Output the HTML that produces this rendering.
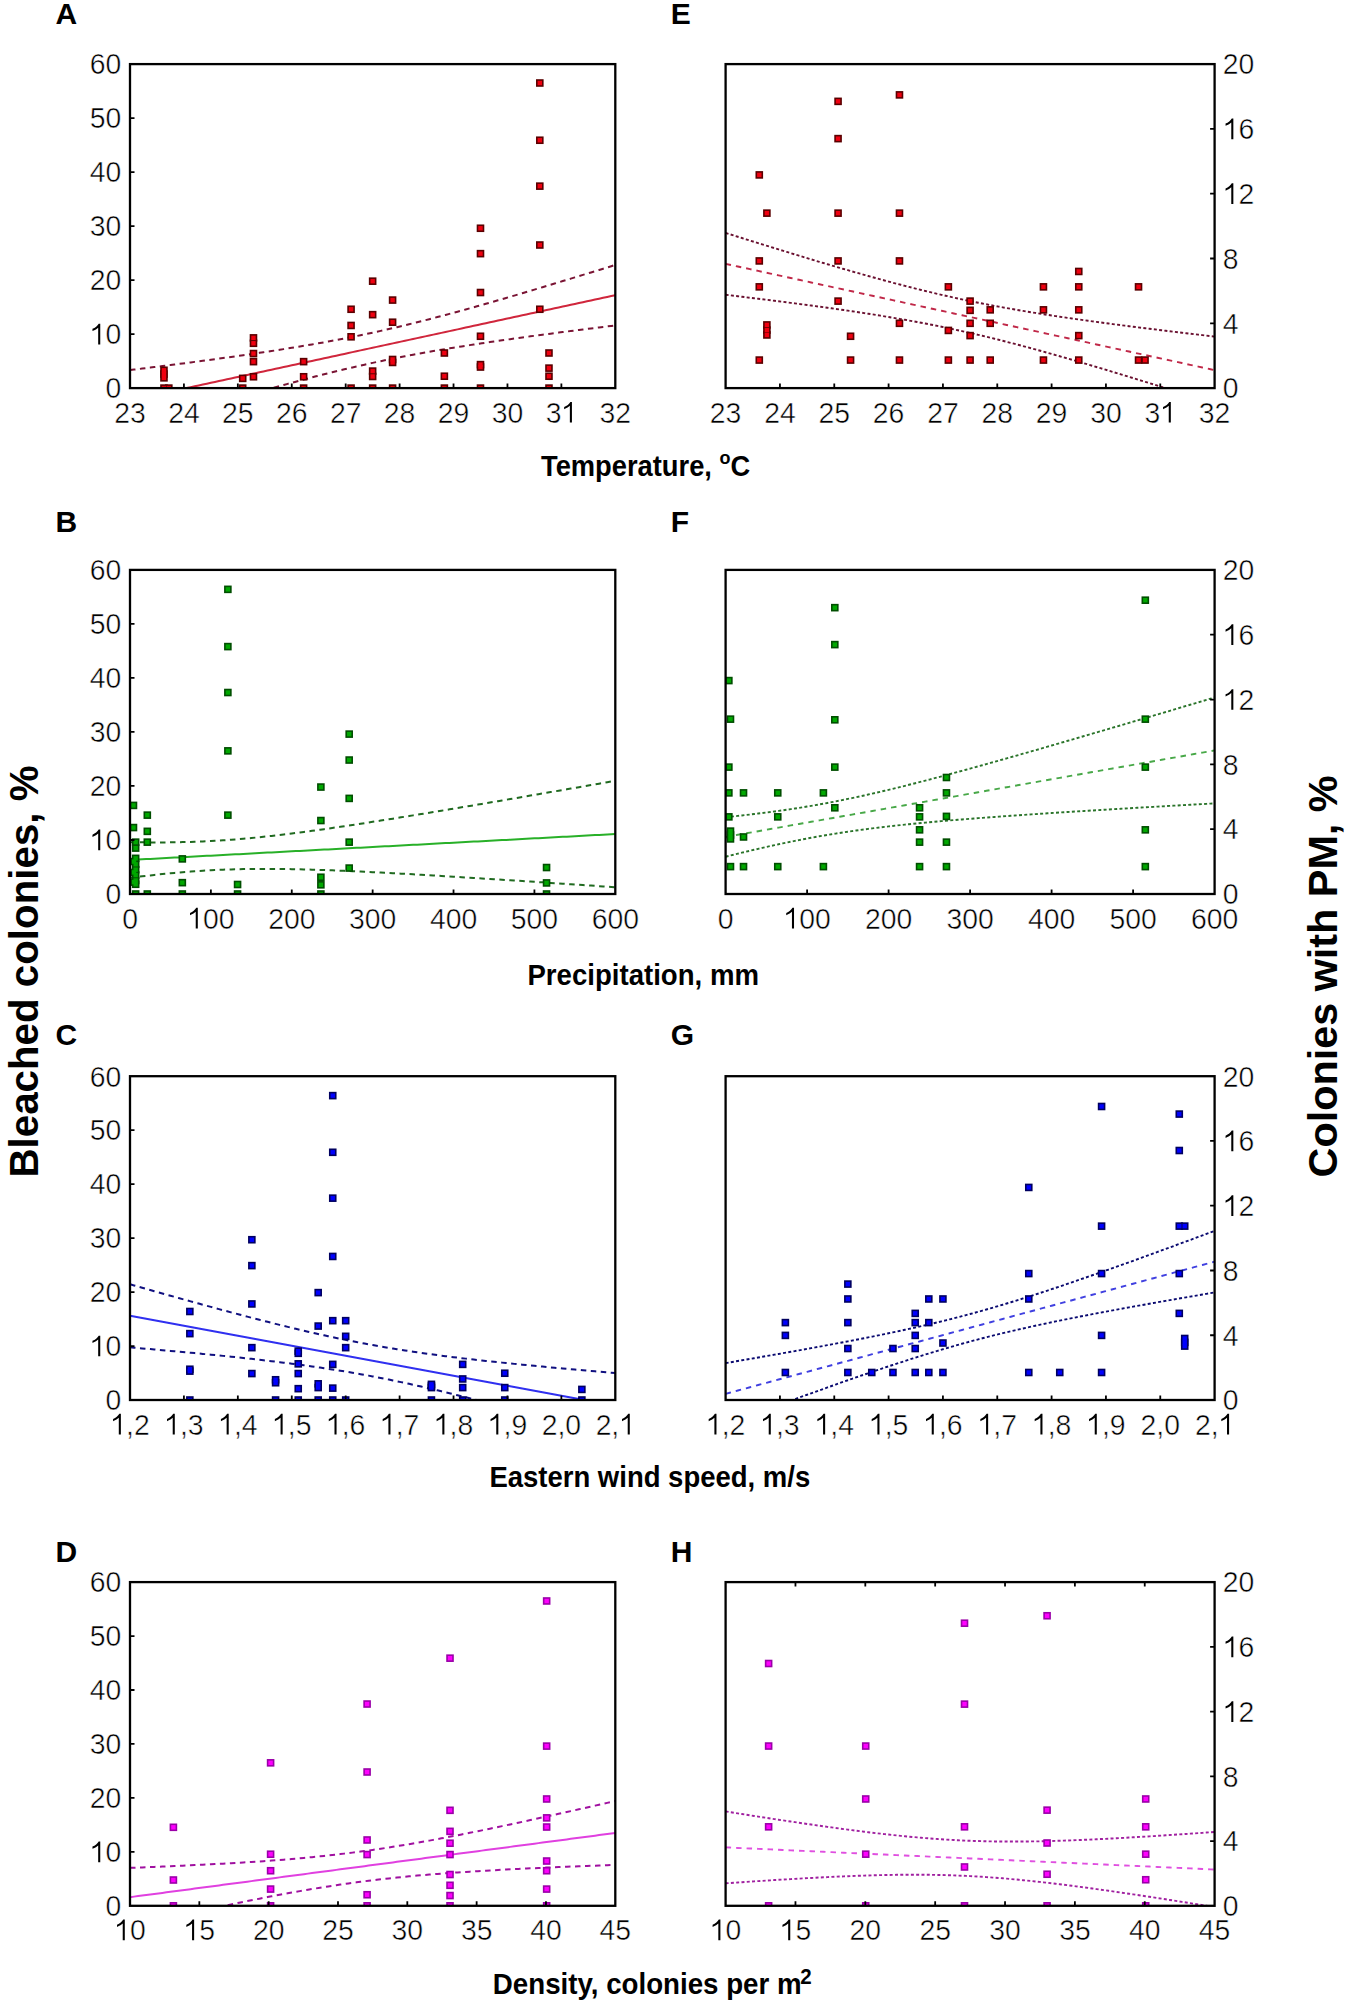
<!DOCTYPE html>
<html><head><meta charset="utf-8"><style>
html,body{margin:0;padding:0;background:#fff;width:1358px;height:2006px;overflow:hidden}
svg{display:block}
.tl text{font-family:"Liberation Sans",sans-serif;font-size:29.5px;fill:#000;stroke:#fff;stroke-width:0.5px}
.tl path{fill:#000}
.pl{font-family:"Liberation Sans",sans-serif;font-size:30px;font-weight:bold;fill:#000}
.ax{font-family:"Liberation Sans",sans-serif;font-size:28px;font-weight:bold;fill:#000}
.vt{font-family:"Liberation Sans",sans-serif;font-size:40px;font-weight:bold;fill:#000}
</style></head><body>
<svg width="1358" height="2006" viewBox="0 0 1358 2006">
<rect width="1358" height="2006" fill="#fff"/>
<clipPath id="c00"><rect x="130" y="64.1" width="485.3" height="324"/></clipPath>
<g clip-path="url(#c00)" fill="none">
<path d="M130,400.35 L134.04,399.47 L138.09,398.59 L142.13,397.72 L146.18,396.84 L150.22,395.97 L154.26,395.09 L158.31,394.21 L162.35,393.34 L166.4,392.46 L170.44,391.58 L174.49,390.71 L178.53,389.83 L182.57,388.95 L186.62,388.08 L190.66,387.2 L194.71,386.32 L198.75,385.45 L202.8,384.57 L206.84,383.7 L210.88,382.82 L214.93,381.94 L218.97,381.07 L223.02,380.19 L227.06,379.31 L231.1,378.44 L235.15,377.56 L239.19,376.68 L243.24,375.81 L247.28,374.93 L251.32,374.05 L255.37,373.18 L259.41,372.3 L263.46,371.43 L267.5,370.55 L271.55,369.67 L275.59,368.8 L279.63,367.92 L283.68,367.04 L287.72,366.17 L291.77,365.29 L295.81,364.41 L299.85,363.54 L303.9,362.66 L307.94,361.78 L311.99,360.91 L316.03,360.03 L320.08,359.16 L324.12,358.28 L328.16,357.4 L332.21,356.53 L336.25,355.65 L340.3,354.77 L344.34,353.9 L348.38,353.02 L352.43,352.14 L356.47,351.27 L360.52,350.39 L364.56,349.51 L368.61,348.64 L372.65,347.76 L376.69,346.89 L380.74,346.01 L384.78,345.13 L388.83,344.26 L392.87,343.38 L396.91,342.5 L400.96,341.63 L405,340.75 L409.05,339.87 L413.09,339 L417.14,338.12 L421.18,337.24 L425.22,336.37 L429.27,335.49 L433.31,334.62 L437.36,333.74 L441.4,332.86 L445.45,331.99 L449.49,331.11 L453.53,330.23 L457.58,329.36 L461.62,328.48 L465.67,327.6 L469.71,326.73 L473.75,325.85 L477.8,324.98 L481.84,324.1 L485.89,323.22 L489.93,322.35 L493.97,321.47 L498.02,320.59 L502.06,319.72 L506.11,318.84 L510.15,317.96 L514.2,317.09 L518.24,316.21 L522.28,315.33 L526.33,314.46 L530.37,313.58 L534.42,312.71 L538.46,311.83 L542.5,310.95 L546.55,310.08 L550.59,309.2 L554.64,308.32 L558.68,307.45 L562.73,306.57 L566.77,305.69 L570.81,304.82 L574.86,303.94 L578.9,303.06 L582.95,302.19 L586.99,301.31 L591.03,300.44 L595.08,299.56 L599.12,298.68 L603.17,297.81 L607.21,296.93 L611.26,296.05 L615.3,295.18" stroke="#d0263c" stroke-width="2"/>
<path d="M130,370.1 L134.04,369.6 L138.09,369.1 L142.13,368.6 L146.18,368.09 L150.22,367.59 L154.26,367.08 L158.31,366.57 L162.35,366.06 L166.4,365.54 L170.44,365.03 L174.49,364.51 L178.53,363.99 L182.57,363.47 L186.62,362.94 L190.66,362.41 L194.71,361.88 L198.75,361.34 L202.8,360.81 L206.84,360.26 L210.88,359.72 L214.93,359.17 L218.97,358.62 L223.02,358.06 L227.06,357.5 L231.1,356.94 L235.15,356.37 L239.19,355.8 L243.24,355.22 L247.28,354.64 L251.32,354.05 L255.37,353.46 L259.41,352.86 L263.46,352.25 L267.5,351.64 L271.55,351.02 L275.59,350.4 L279.63,349.77 L283.68,349.13 L287.72,348.48 L291.77,347.83 L295.81,347.17 L299.85,346.5 L303.9,345.82 L307.94,345.13 L311.99,344.43 L316.03,343.72 L320.08,343.01 L324.12,342.28 L328.16,341.54 L332.21,340.79 L336.25,340.03 L340.3,339.26 L344.34,338.47 L348.38,337.68 L352.43,336.87 L356.47,336.05 L360.52,335.21 L364.56,334.37 L368.61,333.51 L372.65,332.64 L376.69,331.76 L380.74,330.86 L384.78,329.96 L388.83,329.04 L392.87,328.1 L396.91,327.16 L400.96,326.2 L405,325.23 L409.05,324.25 L413.09,323.26 L417.14,322.26 L421.18,321.24 L425.22,320.22 L429.27,319.18 L433.31,318.14 L437.36,317.08 L441.4,316.02 L445.45,314.95 L449.49,313.86 L453.53,312.77 L457.58,311.67 L461.62,310.57 L465.67,309.45 L469.71,308.33 L473.75,307.2 L477.8,306.07 L481.84,304.93 L485.89,303.78 L489.93,302.62 L493.97,301.47 L498.02,300.3 L502.06,299.13 L506.11,297.95 L510.15,296.78 L514.2,295.59 L518.24,294.4 L522.28,293.21 L526.33,292.01 L530.37,290.81 L534.42,289.61 L538.46,288.4 L542.5,287.19 L546.55,285.97 L550.59,284.75 L554.64,283.53 L558.68,282.31 L562.73,281.08 L566.77,279.85 L570.81,278.62 L574.86,277.39 L578.9,276.15 L582.95,274.91 L586.99,273.67 L591.03,272.43 L595.08,271.18 L599.12,269.94 L603.17,268.69 L607.21,267.44 L611.26,266.18 L615.3,264.93" stroke="#7a1434" stroke-width="2" stroke-dasharray="5.5 4.5"/>
<path d="M130,430.59 L134.04,429.34 L138.09,428.09 L142.13,426.84 L146.18,425.59 L150.22,424.34 L154.26,423.1 L158.31,421.85 L162.35,420.61 L166.4,419.37 L170.44,418.14 L174.49,416.9 L178.53,415.67 L182.57,414.44 L186.62,413.22 L190.66,411.99 L194.71,410.77 L198.75,409.55 L202.8,408.34 L206.84,407.13 L210.88,405.92 L214.93,404.71 L218.97,403.51 L223.02,402.32 L227.06,401.12 L231.1,399.93 L235.15,398.75 L239.19,397.57 L243.24,396.39 L247.28,395.22 L251.32,394.06 L255.37,392.9 L259.41,391.75 L263.46,390.6 L267.5,389.46 L271.55,388.32 L275.59,387.19 L279.63,386.07 L283.68,384.96 L287.72,383.85 L291.77,382.75 L295.81,381.66 L299.85,380.58 L303.9,379.5 L307.94,378.44 L311.99,377.39 L316.03,376.34 L320.08,375.31 L324.12,374.28 L328.16,373.27 L332.21,372.26 L336.25,371.27 L340.3,370.29 L344.34,369.32 L348.38,368.37 L352.43,367.42 L356.47,366.49 L360.52,365.57 L364.56,364.66 L368.61,363.76 L372.65,362.88 L376.69,362.01 L380.74,361.15 L384.78,360.31 L388.83,359.48 L392.87,358.66 L396.91,357.85 L400.96,357.05 L405,356.27 L409.05,355.5 L413.09,354.74 L417.14,353.99 L421.18,353.25 L425.22,352.52 L429.27,351.8 L433.31,351.09 L437.36,350.39 L441.4,349.71 L445.45,349.03 L449.49,348.36 L453.53,347.69 L457.58,347.04 L461.62,346.39 L465.67,345.76 L469.71,345.12 L473.75,344.5 L477.8,343.88 L481.84,343.27 L485.89,342.67 L489.93,342.07 L493.97,341.47 L498.02,340.89 L502.06,340.3 L506.11,339.73 L510.15,339.15 L514.2,338.58 L518.24,338.02 L522.28,337.46 L526.33,336.9 L530.37,336.35 L534.42,335.8 L538.46,335.26 L542.5,334.72 L546.55,334.18 L550.59,333.65 L554.64,333.11 L558.68,332.59 L562.73,332.06 L566.77,331.54 L570.81,331.01 L574.86,330.5 L578.9,329.98 L582.95,329.47 L586.99,328.95 L591.03,328.44 L595.08,327.94 L599.12,327.43 L603.17,326.92 L607.21,326.42 L611.26,325.92 L615.3,325.42" stroke="#7a1434" stroke-width="2" stroke-dasharray="5.5 4.5"/>
</g>
<g clip-path="url(#c00)" fill="#5a0000">
<rect x="160.17" y="366.48" width="7.6" height="7.6"/>
<rect x="160.17" y="370.26" width="7.6" height="7.6"/>
<rect x="160.17" y="374.04" width="7.6" height="7.6"/>
<rect x="160.17" y="384.3" width="7.6" height="7.6"/>
<rect x="165.02" y="384.3" width="7.6" height="7.6"/>
<rect x="238.9" y="374.58" width="7.6" height="7.6"/>
<rect x="238.9" y="384.3" width="7.6" height="7.6"/>
<rect x="249.68" y="334.08" width="7.6" height="7.6"/>
<rect x="249.68" y="339.48" width="7.6" height="7.6"/>
<rect x="249.68" y="349.74" width="7.6" height="7.6"/>
<rect x="249.68" y="357.84" width="7.6" height="7.6"/>
<rect x="249.68" y="372.96" width="7.6" height="7.6"/>
<rect x="299.83" y="357.84" width="7.6" height="7.6"/>
<rect x="299.83" y="372.96" width="7.6" height="7.6"/>
<rect x="299.83" y="384.3" width="7.6" height="7.6"/>
<rect x="347.28" y="305.46" width="7.6" height="7.6"/>
<rect x="347.28" y="321.66" width="7.6" height="7.6"/>
<rect x="347.28" y="333" width="7.6" height="7.6"/>
<rect x="347.28" y="384.3" width="7.6" height="7.6"/>
<rect x="368.85" y="277.38" width="7.6" height="7.6"/>
<rect x="368.85" y="310.86" width="7.6" height="7.6"/>
<rect x="368.85" y="367.29" width="7.6" height="7.6"/>
<rect x="368.85" y="372.69" width="7.6" height="7.6"/>
<rect x="368.85" y="384.3" width="7.6" height="7.6"/>
<rect x="388.8" y="296.28" width="7.6" height="7.6"/>
<rect x="388.8" y="318.42" width="7.6" height="7.6"/>
<rect x="388.8" y="355.68" width="7.6" height="7.6"/>
<rect x="388.8" y="358.65" width="7.6" height="7.6"/>
<rect x="388.8" y="384.3" width="7.6" height="7.6"/>
<rect x="440.57" y="349.2" width="7.6" height="7.6"/>
<rect x="440.57" y="372.42" width="7.6" height="7.6"/>
<rect x="440.57" y="384.3" width="7.6" height="7.6"/>
<rect x="476.69" y="224.46" width="7.6" height="7.6"/>
<rect x="476.69" y="249.84" width="7.6" height="7.6"/>
<rect x="476.69" y="288.72" width="7.6" height="7.6"/>
<rect x="476.69" y="332.46" width="7.6" height="7.6"/>
<rect x="476.69" y="360.81" width="7.6" height="7.6"/>
<rect x="476.69" y="363.24" width="7.6" height="7.6"/>
<rect x="476.69" y="384.3" width="7.6" height="7.6"/>
<rect x="536.01" y="79.2" width="7.6" height="7.6"/>
<rect x="536.01" y="136.44" width="7.6" height="7.6"/>
<rect x="536.01" y="182.34" width="7.6" height="7.6"/>
<rect x="536.01" y="241.2" width="7.6" height="7.6"/>
<rect x="536.01" y="305.46" width="7.6" height="7.6"/>
<rect x="545.18" y="349.2" width="7.6" height="7.6"/>
<rect x="545.18" y="364.32" width="7.6" height="7.6"/>
<rect x="545.18" y="372.42" width="7.6" height="7.6"/>
<rect x="545.18" y="384.3" width="7.6" height="7.6"/>
</g>
<g clip-path="url(#c00)" fill="#f00010">
<rect x="161.77" y="368.08" width="4.4" height="4.4"/>
<rect x="161.77" y="371.86" width="4.4" height="4.4"/>
<rect x="161.77" y="375.64" width="4.4" height="4.4"/>
<rect x="161.77" y="385.9" width="4.4" height="4.4"/>
<rect x="166.62" y="385.9" width="4.4" height="4.4"/>
<rect x="240.5" y="376.18" width="4.4" height="4.4"/>
<rect x="240.5" y="385.9" width="4.4" height="4.4"/>
<rect x="251.28" y="335.68" width="4.4" height="4.4"/>
<rect x="251.28" y="341.08" width="4.4" height="4.4"/>
<rect x="251.28" y="351.34" width="4.4" height="4.4"/>
<rect x="251.28" y="359.44" width="4.4" height="4.4"/>
<rect x="251.28" y="374.56" width="4.4" height="4.4"/>
<rect x="301.43" y="359.44" width="4.4" height="4.4"/>
<rect x="301.43" y="374.56" width="4.4" height="4.4"/>
<rect x="301.43" y="385.9" width="4.4" height="4.4"/>
<rect x="348.88" y="307.06" width="4.4" height="4.4"/>
<rect x="348.88" y="323.26" width="4.4" height="4.4"/>
<rect x="348.88" y="334.6" width="4.4" height="4.4"/>
<rect x="348.88" y="385.9" width="4.4" height="4.4"/>
<rect x="370.45" y="278.98" width="4.4" height="4.4"/>
<rect x="370.45" y="312.46" width="4.4" height="4.4"/>
<rect x="370.45" y="368.89" width="4.4" height="4.4"/>
<rect x="370.45" y="374.29" width="4.4" height="4.4"/>
<rect x="370.45" y="385.9" width="4.4" height="4.4"/>
<rect x="390.4" y="297.88" width="4.4" height="4.4"/>
<rect x="390.4" y="320.02" width="4.4" height="4.4"/>
<rect x="390.4" y="357.28" width="4.4" height="4.4"/>
<rect x="390.4" y="360.25" width="4.4" height="4.4"/>
<rect x="390.4" y="385.9" width="4.4" height="4.4"/>
<rect x="442.17" y="350.8" width="4.4" height="4.4"/>
<rect x="442.17" y="374.02" width="4.4" height="4.4"/>
<rect x="442.17" y="385.9" width="4.4" height="4.4"/>
<rect x="478.29" y="226.06" width="4.4" height="4.4"/>
<rect x="478.29" y="251.44" width="4.4" height="4.4"/>
<rect x="478.29" y="290.32" width="4.4" height="4.4"/>
<rect x="478.29" y="334.06" width="4.4" height="4.4"/>
<rect x="478.29" y="362.41" width="4.4" height="4.4"/>
<rect x="478.29" y="364.84" width="4.4" height="4.4"/>
<rect x="478.29" y="385.9" width="4.4" height="4.4"/>
<rect x="537.61" y="80.8" width="4.4" height="4.4"/>
<rect x="537.61" y="138.04" width="4.4" height="4.4"/>
<rect x="537.61" y="183.94" width="4.4" height="4.4"/>
<rect x="537.61" y="242.8" width="4.4" height="4.4"/>
<rect x="537.61" y="307.06" width="4.4" height="4.4"/>
<rect x="546.78" y="350.8" width="4.4" height="4.4"/>
<rect x="546.78" y="365.92" width="4.4" height="4.4"/>
<rect x="546.78" y="374.02" width="4.4" height="4.4"/>
<rect x="546.78" y="385.9" width="4.4" height="4.4"/>
</g>
<rect x="130" y="64.1" width="485.3" height="324" fill="none" stroke="#000" stroke-width="2.3"/>
<path d="M183.92,388.1 v-4.5 M237.84,388.1 v-4.5 M291.77,388.1 v-4.5 M345.69,388.1 v-4.5 M399.61,388.1 v-4.5 M453.53,388.1 v-4.5 M507.46,388.1 v-4.5 M561.38,388.1 v-4.5 M130,334.1 h4.5 M130,280.1 h4.5 M130,226.1 h4.5 M130,172.1 h4.5 M130,118.1 h4.5" stroke="#000" stroke-width="1.8" fill="none"/>
<g class="tl">
<g transform="translate(130,422.6) scale(0.96,1.02)"><text x="-16.41" y="0">23</text></g>
<g transform="translate(183.92,422.6) scale(0.96,1.02)"><text x="-16.41" y="0">24</text></g>
<g transform="translate(237.84,422.6) scale(0.96,1.02)"><text x="-16.41" y="0">25</text></g>
<g transform="translate(291.77,422.6) scale(0.96,1.02)"><text x="-16.41" y="0">26</text></g>
<g transform="translate(345.69,422.6) scale(0.96,1.02)"><text x="-16.41" y="0">27</text></g>
<g transform="translate(399.61,422.6) scale(0.96,1.02)"><text x="-16.41" y="0">28</text></g>
<g transform="translate(453.53,422.6) scale(0.96,1.02)"><text x="-16.41" y="0">29</text></g>
<g transform="translate(507.46,422.6) scale(0.96,1.02)"><text x="-16.41" y="0">30</text></g>
<g transform="translate(561.38,422.6) scale(0.96,1.02)"><text x="-16.41" y="0">3 </text><path d="M763,0 L613,0 L613,1140 C540,1075 390,980 200,910 L200,1062 C400,1140 560,1260 650,1409 L763,1409 Z" transform="translate(0,0) scale(0.014404,-0.014404)"/></g>
<g transform="translate(615.3,422.6) scale(0.96,1.02)"><text x="-16.41" y="0">32</text></g>
<g transform="translate(121.2,398.4) scale(0.96,1.02)"><text x="-16.41" y="0">0</text></g>
<g transform="translate(121.2,344.4) scale(0.96,1.02)"><text x="-32.81" y="0"> 0</text><path d="M763,0 L613,0 L613,1140 C540,1075 390,980 200,910 L200,1062 C400,1140 560,1260 650,1409 L763,1409 Z" transform="translate(-32.81,0) scale(0.014404,-0.014404)"/></g>
<g transform="translate(121.2,290.4) scale(0.96,1.02)"><text x="-32.81" y="0">20</text></g>
<g transform="translate(121.2,236.4) scale(0.96,1.02)"><text x="-32.81" y="0">30</text></g>
<g transform="translate(121.2,182.4) scale(0.96,1.02)"><text x="-32.81" y="0">40</text></g>
<g transform="translate(121.2,128.4) scale(0.96,1.02)"><text x="-32.81" y="0">50</text></g>
<g transform="translate(121.2,74.4) scale(0.96,1.02)"><text x="-32.81" y="0">60</text></g>
</g>
<clipPath id="c10"><rect x="725.6" y="64.1" width="489" height="324"/></clipPath>
<g clip-path="url(#c10)" fill="none">
<path d="M725.6,263.85 L729.67,264.73 L733.75,265.62 L737.83,266.5 L741.9,267.39 L745.98,268.27 L750.05,269.16 L754.12,270.05 L758.2,270.93 L762.28,271.82 L766.35,272.7 L770.42,273.59 L774.5,274.47 L778.58,275.36 L782.65,276.25 L786.73,277.13 L790.8,278.02 L794.87,278.9 L798.95,279.79 L803.03,280.67 L807.1,281.56 L811.17,282.45 L815.25,283.33 L819.33,284.22 L823.4,285.1 L827.48,285.99 L831.55,286.88 L835.62,287.76 L839.7,288.65 L843.78,289.53 L847.85,290.42 L851.92,291.3 L856,292.19 L860.08,293.08 L864.15,293.96 L868.23,294.85 L872.3,295.73 L876.37,296.62 L880.45,297.5 L884.52,298.39 L888.6,299.28 L892.67,300.16 L896.75,301.05 L900.83,301.93 L904.9,302.82 L908.97,303.7 L913.05,304.59 L917.12,305.48 L921.2,306.36 L925.28,307.25 L929.35,308.13 L933.42,309.02 L937.5,309.9 L941.58,310.79 L945.65,311.68 L949.72,312.56 L953.8,313.45 L957.87,314.33 L961.95,315.22 L966.02,316.1 L970.1,316.99 L974.17,317.88 L978.25,318.76 L982.33,319.65 L986.4,320.53 L990.47,321.42 L994.55,322.3 L998.62,323.19 L1002.7,324.08 L1006.77,324.96 L1010.85,325.85 L1014.92,326.73 L1019,327.62 L1023.08,328.5 L1027.15,329.39 L1031.22,330.28 L1035.3,331.16 L1039.38,332.05 L1043.45,332.93 L1047.53,333.82 L1051.6,334.7 L1055.67,335.59 L1059.75,336.48 L1063.83,337.36 L1067.9,338.25 L1071.97,339.13 L1076.05,340.02 L1080.12,340.9 L1084.2,341.79 L1088.28,342.68 L1092.35,343.56 L1096.42,344.45 L1100.5,345.33 L1104.58,346.22 L1108.65,347.11 L1112.72,347.99 L1116.8,348.88 L1120.87,349.76 L1124.95,350.65 L1129.03,351.53 L1133.1,352.42 L1137.17,353.31 L1141.25,354.19 L1145.33,355.08 L1149.4,355.96 L1153.47,356.85 L1157.55,357.73 L1161.62,358.62 L1165.7,359.51 L1169.78,360.39 L1173.85,361.28 L1177.92,362.16 L1182,363.05 L1186.08,363.93 L1190.15,364.82 L1194.22,365.71 L1198.3,366.59 L1202.37,367.48 L1206.45,368.36 L1210.52,369.25 L1214.6,370.13" stroke="#c02848" stroke-width="1.9" stroke-dasharray="5.5 5"/>
<path d="M725.6,232.89 L729.67,234.18 L733.75,235.47 L737.83,236.75 L741.9,238.03 L745.98,239.31 L750.05,240.58 L754.12,241.86 L758.2,243.13 L762.28,244.39 L766.35,245.66 L770.42,246.92 L774.5,248.18 L778.58,249.44 L782.65,250.69 L786.73,251.95 L790.8,253.19 L794.87,254.44 L798.95,255.68 L803.03,256.91 L807.1,258.14 L811.17,259.37 L815.25,260.59 L819.33,261.81 L823.4,263.03 L827.48,264.23 L831.55,265.44 L835.62,266.63 L839.7,267.82 L843.78,269.01 L847.85,270.19 L851.92,271.36 L856,272.53 L860.08,273.68 L864.15,274.84 L868.23,275.98 L872.3,277.11 L876.37,278.24 L880.45,279.35 L884.52,280.46 L888.6,281.56 L892.67,282.65 L896.75,283.73 L900.83,284.79 L904.9,285.85 L908.97,286.9 L913.05,287.93 L917.12,288.95 L921.2,289.96 L925.28,290.96 L929.35,291.94 L933.42,292.91 L937.5,293.87 L941.58,294.81 L945.65,295.75 L949.72,296.66 L953.8,297.57 L957.87,298.46 L961.95,299.33 L966.02,300.2 L970.1,301.04 L974.17,301.88 L978.25,302.7 L982.33,303.51 L986.4,304.3 L990.47,305.09 L994.55,305.86 L998.62,306.61 L1002.7,307.36 L1006.77,308.09 L1010.85,308.81 L1014.92,309.52 L1019,310.22 L1023.08,310.91 L1027.15,311.59 L1031.22,312.26 L1035.3,312.92 L1039.38,313.57 L1043.45,314.21 L1047.53,314.85 L1051.6,315.47 L1055.67,316.09 L1059.75,316.7 L1063.83,317.31 L1067.9,317.9 L1071.97,318.49 L1076.05,319.08 L1080.12,319.65 L1084.2,320.23 L1088.28,320.79 L1092.35,321.35 L1096.42,321.91 L1100.5,322.46 L1104.58,323.01 L1108.65,323.55 L1112.72,324.09 L1116.8,324.62 L1120.87,325.15 L1124.95,325.68 L1129.03,326.2 L1133.1,326.72 L1137.17,327.24 L1141.25,327.75 L1145.33,328.26 L1149.4,328.77 L1153.47,329.27 L1157.55,329.77 L1161.62,330.27 L1165.7,330.77 L1169.78,331.27 L1173.85,331.76 L1177.92,332.25 L1182,332.74 L1186.08,333.22 L1190.15,333.71 L1194.22,334.19 L1198.3,334.67 L1202.37,335.15 L1206.45,335.63 L1210.52,336.1 L1214.6,336.58" stroke="#6a1030" stroke-width="1.9" stroke-dasharray="3 2.3"/>
<path d="M725.6,294.8 L729.67,295.28 L733.75,295.77 L737.83,296.26 L741.9,296.75 L745.98,297.24 L750.05,297.74 L754.12,298.24 L758.2,298.74 L762.28,299.24 L766.35,299.75 L770.42,300.25 L774.5,300.77 L778.58,301.28 L782.65,301.8 L786.73,302.32 L790.8,302.84 L794.87,303.37 L798.95,303.9 L803.03,304.44 L807.1,304.98 L811.17,305.52 L815.25,306.07 L819.33,306.62 L823.4,307.18 L827.48,307.75 L831.55,308.31 L835.62,308.89 L839.7,309.47 L843.78,310.05 L847.85,310.65 L851.92,311.25 L856,311.85 L860.08,312.47 L864.15,313.09 L868.23,313.72 L872.3,314.35 L876.37,315 L880.45,315.65 L884.52,316.32 L888.6,316.99 L892.67,317.67 L896.75,318.37 L900.83,319.07 L904.9,319.79 L908.97,320.51 L913.05,321.25 L917.12,322 L921.2,322.76 L925.28,323.54 L929.35,324.32 L933.42,325.12 L937.5,325.94 L941.58,326.77 L945.65,327.61 L949.72,328.46 L953.8,329.33 L957.87,330.21 L961.95,331.1 L966.02,332.01 L970.1,332.94 L974.17,333.87 L978.25,334.82 L982.33,335.79 L986.4,336.76 L990.47,337.75 L994.55,338.75 L998.62,339.77 L1002.7,340.79 L1006.77,341.83 L1010.85,342.88 L1014.92,343.94 L1019,345.01 L1023.08,346.1 L1027.15,347.19 L1031.22,348.29 L1035.3,349.4 L1039.38,350.52 L1043.45,351.65 L1047.53,352.79 L1051.6,353.94 L1055.67,355.09 L1059.75,356.25 L1063.83,357.42 L1067.9,358.59 L1071.97,359.77 L1076.05,360.96 L1080.12,362.16 L1084.2,363.36 L1088.28,364.56 L1092.35,365.77 L1096.42,366.99 L1100.5,368.21 L1104.58,369.43 L1108.65,370.66 L1112.72,371.89 L1116.8,373.13 L1120.87,374.37 L1124.95,375.62 L1129.03,376.87 L1133.1,378.12 L1137.17,379.37 L1141.25,380.63 L1145.33,381.89 L1149.4,383.16 L1153.47,384.42 L1157.55,385.69 L1161.62,386.97 L1165.7,388.24 L1169.78,389.52 L1173.85,390.8 L1177.92,392.08 L1182,393.36 L1186.08,394.64 L1190.15,395.93 L1194.22,397.22 L1198.3,398.51 L1202.37,399.8 L1206.45,401.1 L1210.52,402.39 L1214.6,403.69" stroke="#6a1030" stroke-width="1.9" stroke-dasharray="3 2.3"/>
</g>
<g clip-path="url(#c10)" fill="#5a0000">
<rect x="755.49" y="171.11" width="7.6" height="7.6"/>
<rect x="755.49" y="257.13" width="7.6" height="7.6"/>
<rect x="755.49" y="283.05" width="7.6" height="7.6"/>
<rect x="755.49" y="356.27" width="7.6" height="7.6"/>
<rect x="763.09" y="209.34" width="7.6" height="7.6"/>
<rect x="763.09" y="321.12" width="7.6" height="7.6"/>
<rect x="763.09" y="326.3" width="7.6" height="7.6"/>
<rect x="763.09" y="331.16" width="7.6" height="7.6"/>
<rect x="834.27" y="97.56" width="7.6" height="7.6"/>
<rect x="834.27" y="134.82" width="7.6" height="7.6"/>
<rect x="834.27" y="209.34" width="7.6" height="7.6"/>
<rect x="834.27" y="257.13" width="7.6" height="7.6"/>
<rect x="834.27" y="297.31" width="7.6" height="7.6"/>
<rect x="846.77" y="332.46" width="7.6" height="7.6"/>
<rect x="846.77" y="356.27" width="7.6" height="7.6"/>
<rect x="895.67" y="91.08" width="7.6" height="7.6"/>
<rect x="895.67" y="209.34" width="7.6" height="7.6"/>
<rect x="895.67" y="257.13" width="7.6" height="7.6"/>
<rect x="895.67" y="319.5" width="7.6" height="7.6"/>
<rect x="895.67" y="356.27" width="7.6" height="7.6"/>
<rect x="944.57" y="283.05" width="7.6" height="7.6"/>
<rect x="944.57" y="326.63" width="7.6" height="7.6"/>
<rect x="944.57" y="356.27" width="7.6" height="7.6"/>
<rect x="966.3" y="297.31" width="7.6" height="7.6"/>
<rect x="966.3" y="306.54" width="7.6" height="7.6"/>
<rect x="966.3" y="319.5" width="7.6" height="7.6"/>
<rect x="966.3" y="331.81" width="7.6" height="7.6"/>
<rect x="966.3" y="356.27" width="7.6" height="7.6"/>
<rect x="986.4" y="306.05" width="7.6" height="7.6"/>
<rect x="986.4" y="319.5" width="7.6" height="7.6"/>
<rect x="986.4" y="356.27" width="7.6" height="7.6"/>
<rect x="1039.65" y="283.05" width="7.6" height="7.6"/>
<rect x="1039.65" y="306.05" width="7.6" height="7.6"/>
<rect x="1039.65" y="356.27" width="7.6" height="7.6"/>
<rect x="1074.97" y="267.66" width="7.6" height="7.6"/>
<rect x="1074.97" y="283.05" width="7.6" height="7.6"/>
<rect x="1074.97" y="306.05" width="7.6" height="7.6"/>
<rect x="1074.97" y="331.81" width="7.6" height="7.6"/>
<rect x="1074.97" y="356.27" width="7.6" height="7.6"/>
<rect x="1134.73" y="283.05" width="7.6" height="7.6"/>
<rect x="1134.73" y="356.27" width="7.6" height="7.6"/>
<rect x="1141.25" y="356.27" width="7.6" height="7.6"/>
</g>
<g clip-path="url(#c10)" fill="#f00010">
<rect x="757.09" y="172.71" width="4.4" height="4.4"/>
<rect x="757.09" y="258.73" width="4.4" height="4.4"/>
<rect x="757.09" y="284.65" width="4.4" height="4.4"/>
<rect x="757.09" y="357.87" width="4.4" height="4.4"/>
<rect x="764.69" y="210.94" width="4.4" height="4.4"/>
<rect x="764.69" y="322.72" width="4.4" height="4.4"/>
<rect x="764.69" y="327.9" width="4.4" height="4.4"/>
<rect x="764.69" y="332.76" width="4.4" height="4.4"/>
<rect x="835.87" y="99.16" width="4.4" height="4.4"/>
<rect x="835.87" y="136.42" width="4.4" height="4.4"/>
<rect x="835.87" y="210.94" width="4.4" height="4.4"/>
<rect x="835.87" y="258.73" width="4.4" height="4.4"/>
<rect x="835.87" y="298.91" width="4.4" height="4.4"/>
<rect x="848.37" y="334.06" width="4.4" height="4.4"/>
<rect x="848.37" y="357.87" width="4.4" height="4.4"/>
<rect x="897.27" y="92.68" width="4.4" height="4.4"/>
<rect x="897.27" y="210.94" width="4.4" height="4.4"/>
<rect x="897.27" y="258.73" width="4.4" height="4.4"/>
<rect x="897.27" y="321.1" width="4.4" height="4.4"/>
<rect x="897.27" y="357.87" width="4.4" height="4.4"/>
<rect x="946.17" y="284.65" width="4.4" height="4.4"/>
<rect x="946.17" y="328.23" width="4.4" height="4.4"/>
<rect x="946.17" y="357.87" width="4.4" height="4.4"/>
<rect x="967.9" y="298.91" width="4.4" height="4.4"/>
<rect x="967.9" y="308.14" width="4.4" height="4.4"/>
<rect x="967.9" y="321.1" width="4.4" height="4.4"/>
<rect x="967.9" y="333.41" width="4.4" height="4.4"/>
<rect x="967.9" y="357.87" width="4.4" height="4.4"/>
<rect x="988" y="307.65" width="4.4" height="4.4"/>
<rect x="988" y="321.1" width="4.4" height="4.4"/>
<rect x="988" y="357.87" width="4.4" height="4.4"/>
<rect x="1041.25" y="284.65" width="4.4" height="4.4"/>
<rect x="1041.25" y="307.65" width="4.4" height="4.4"/>
<rect x="1041.25" y="357.87" width="4.4" height="4.4"/>
<rect x="1076.57" y="269.26" width="4.4" height="4.4"/>
<rect x="1076.57" y="284.65" width="4.4" height="4.4"/>
<rect x="1076.57" y="307.65" width="4.4" height="4.4"/>
<rect x="1076.57" y="333.41" width="4.4" height="4.4"/>
<rect x="1076.57" y="357.87" width="4.4" height="4.4"/>
<rect x="1136.33" y="284.65" width="4.4" height="4.4"/>
<rect x="1136.33" y="357.87" width="4.4" height="4.4"/>
<rect x="1142.85" y="357.87" width="4.4" height="4.4"/>
</g>
<rect x="725.6" y="64.1" width="489" height="324" fill="none" stroke="#000" stroke-width="2.3"/>
<path d="M779.93,388.1 v-4.5 M834.27,388.1 v-4.5 M888.6,388.1 v-4.5 M942.93,388.1 v-4.5 M997.27,388.1 v-4.5 M1051.6,388.1 v-4.5 M1105.93,388.1 v-4.5 M1160.27,388.1 v-4.5 M1214.6,323.3 h-4.5 M1214.6,258.5 h-4.5 M1214.6,193.7 h-4.5 M1214.6,128.9 h-4.5" stroke="#000" stroke-width="1.8" fill="none"/>
<g class="tl">
<g transform="translate(725.6,422.6) scale(0.96,1.02)"><text x="-16.41" y="0">23</text></g>
<g transform="translate(779.93,422.6) scale(0.96,1.02)"><text x="-16.41" y="0">24</text></g>
<g transform="translate(834.27,422.6) scale(0.96,1.02)"><text x="-16.41" y="0">25</text></g>
<g transform="translate(888.6,422.6) scale(0.96,1.02)"><text x="-16.41" y="0">26</text></g>
<g transform="translate(942.93,422.6) scale(0.96,1.02)"><text x="-16.41" y="0">27</text></g>
<g transform="translate(997.27,422.6) scale(0.96,1.02)"><text x="-16.41" y="0">28</text></g>
<g transform="translate(1051.6,422.6) scale(0.96,1.02)"><text x="-16.41" y="0">29</text></g>
<g transform="translate(1105.93,422.6) scale(0.96,1.02)"><text x="-16.41" y="0">30</text></g>
<g transform="translate(1160.27,422.6) scale(0.96,1.02)"><text x="-16.41" y="0">3 </text><path d="M763,0 L613,0 L613,1140 C540,1075 390,980 200,910 L200,1062 C400,1140 560,1260 650,1409 L763,1409 Z" transform="translate(0,0) scale(0.014404,-0.014404)"/></g>
<g transform="translate(1214.6,422.6) scale(0.96,1.02)"><text x="-16.41" y="0">32</text></g>
<g transform="translate(1222.8,398.4) scale(0.96,1.02)"><text x="0" y="0">0</text></g>
<g transform="translate(1222.8,333.6) scale(0.96,1.02)"><text x="0" y="0">4</text></g>
<g transform="translate(1222.8,268.8) scale(0.96,1.02)"><text x="0" y="0">8</text></g>
<g transform="translate(1222.8,204) scale(0.96,1.02)"><text x="0" y="0"> 2</text><path d="M763,0 L613,0 L613,1140 C540,1075 390,980 200,910 L200,1062 C400,1140 560,1260 650,1409 L763,1409 Z" transform="translate(0,0) scale(0.014404,-0.014404)"/></g>
<g transform="translate(1222.8,139.2) scale(0.96,1.02)"><text x="0" y="0"> 6</text><path d="M763,0 L613,0 L613,1140 C540,1075 390,980 200,910 L200,1062 C400,1140 560,1260 650,1409 L763,1409 Z" transform="translate(0,0) scale(0.014404,-0.014404)"/></g>
<g transform="translate(1222.8,74.4) scale(0.96,1.02)"><text x="0" y="0">20</text></g>
</g>
<clipPath id="c01"><rect x="130" y="569.9" width="485.3" height="324.1"/></clipPath>
<g clip-path="url(#c01)" fill="none">
<path d="M130,859.97 L134.04,859.75 L138.09,859.54 L142.13,859.32 L146.18,859.11 L150.22,858.89 L154.26,858.67 L158.31,858.46 L162.35,858.24 L166.4,858.02 L170.44,857.81 L174.49,857.59 L178.53,857.38 L182.57,857.16 L186.62,856.94 L190.66,856.73 L194.71,856.51 L198.75,856.3 L202.79,856.08 L206.84,855.86 L210.88,855.65 L214.93,855.43 L218.97,855.22 L223.02,855 L227.06,854.78 L231.1,854.57 L235.15,854.35 L239.19,854.14 L243.24,853.92 L247.28,853.7 L251.32,853.49 L255.37,853.27 L259.41,853.06 L263.46,852.84 L267.5,852.62 L271.55,852.41 L275.59,852.19 L279.63,851.98 L283.68,851.76 L287.72,851.54 L291.77,851.33 L295.81,851.11 L299.85,850.89 L303.9,850.68 L307.94,850.46 L311.99,850.25 L316.03,850.03 L320.08,849.81 L324.12,849.6 L328.16,849.38 L332.21,849.17 L336.25,848.95 L340.3,848.73 L344.34,848.52 L348.38,848.3 L352.43,848.09 L356.47,847.87 L360.52,847.65 L364.56,847.44 L368.61,847.22 L372.65,847.01 L376.69,846.79 L380.74,846.57 L384.78,846.36 L388.83,846.14 L392.87,845.93 L396.92,845.71 L400.96,845.49 L405,845.28 L409.05,845.06 L413.09,844.84 L417.14,844.63 L421.18,844.41 L425.22,844.2 L429.27,843.98 L433.31,843.76 L437.36,843.55 L441.4,843.33 L445.44,843.12 L449.49,842.9 L453.53,842.68 L457.58,842.47 L461.62,842.25 L465.67,842.04 L469.71,841.82 L473.75,841.6 L477.8,841.39 L481.84,841.17 L485.89,840.96 L489.93,840.74 L493.97,840.52 L498.02,840.31 L502.06,840.09 L506.11,839.88 L510.15,839.66 L514.2,839.44 L518.24,839.23 L522.28,839.01 L526.33,838.79 L530.37,838.58 L534.42,838.36 L538.46,838.15 L542.5,837.93 L546.55,837.71 L550.59,837.5 L554.64,837.28 L558.68,837.07 L562.73,836.85 L566.77,836.63 L570.81,836.42 L574.86,836.2 L578.9,835.99 L582.95,835.77 L586.99,835.55 L591.03,835.34 L595.08,835.12 L599.12,834.91 L603.17,834.69 L607.21,834.47 L611.26,834.26 L615.3,834.04" stroke="#28b028" stroke-width="2"/>
<path d="M130,842.13 L134.04,842.21 L138.09,842.27 L142.13,842.32 L146.18,842.36 L150.22,842.39 L154.26,842.4 L158.31,842.41 L162.35,842.4 L166.4,842.37 L170.44,842.33 L174.49,842.28 L178.53,842.21 L182.57,842.12 L186.62,842.02 L190.66,841.9 L194.71,841.76 L198.75,841.61 L202.79,841.44 L206.84,841.25 L210.88,841.04 L214.93,840.82 L218.97,840.57 L223.02,840.31 L227.06,840.04 L231.1,839.74 L235.15,839.43 L239.19,839.1 L243.24,838.75 L247.28,838.39 L251.32,838.01 L255.37,837.62 L259.41,837.21 L263.46,836.79 L267.5,836.35 L271.55,835.91 L275.59,835.45 L279.63,834.97 L283.68,834.49 L287.72,834 L291.77,833.49 L295.81,832.98 L299.85,832.45 L303.9,831.92 L307.94,831.38 L311.99,830.83 L316.03,830.27 L320.08,829.71 L324.12,829.14 L328.16,828.56 L332.21,827.97 L336.25,827.38 L340.3,826.79 L344.34,826.19 L348.38,825.58 L352.43,824.97 L356.47,824.36 L360.52,823.74 L364.56,823.12 L368.61,822.49 L372.65,821.86 L376.69,821.22 L380.74,820.58 L384.78,819.94 L388.83,819.3 L392.87,818.65 L396.92,818 L400.96,817.35 L405,816.7 L409.05,816.04 L413.09,815.38 L417.14,814.72 L421.18,814.05 L425.22,813.39 L429.27,812.72 L433.31,812.05 L437.36,811.38 L441.4,810.71 L445.44,810.03 L449.49,809.36 L453.53,808.68 L457.58,808 L461.62,807.32 L465.67,806.64 L469.71,805.96 L473.75,805.27 L477.8,804.59 L481.84,803.9 L485.89,803.21 L489.93,802.52 L493.97,801.83 L498.02,801.14 L502.06,800.45 L506.11,799.76 L510.15,799.07 L514.2,798.37 L518.24,797.68 L522.28,796.98 L526.33,796.29 L530.37,795.59 L534.42,794.89 L538.46,794.19 L542.5,793.49 L546.55,792.79 L550.59,792.09 L554.64,791.39 L558.68,790.69 L562.73,789.99 L566.77,789.29 L570.81,788.58 L574.86,787.88 L578.9,787.17 L582.95,786.47 L586.99,785.77 L591.03,785.06 L595.08,784.35 L599.12,783.65 L603.17,782.94 L607.21,782.23 L611.26,781.53 L615.3,780.82" stroke="#206a20" stroke-width="2" stroke-dasharray="5.5 4.5"/>
<path d="M130,877.81 L134.04,877.3 L138.09,876.81 L142.13,876.32 L146.18,875.85 L150.22,875.39 L154.26,874.94 L158.31,874.51 L162.35,874.09 L166.4,873.68 L170.44,873.29 L174.49,872.91 L178.53,872.55 L182.57,872.2 L186.62,871.87 L190.66,871.56 L194.71,871.26 L198.75,870.98 L202.79,870.72 L206.84,870.48 L210.88,870.25 L214.93,870.05 L218.97,869.86 L223.02,869.69 L227.06,869.53 L231.1,869.4 L235.15,869.28 L239.19,869.17 L243.24,869.09 L247.28,869.02 L251.32,868.96 L255.37,868.92 L259.41,868.9 L263.46,868.89 L267.5,868.89 L271.55,868.91 L275.59,868.94 L279.63,868.98 L283.68,869.03 L287.72,869.09 L291.77,869.16 L295.81,869.25 L299.85,869.34 L303.9,869.44 L307.94,869.55 L311.99,869.66 L316.03,869.79 L320.08,869.92 L324.12,870.06 L328.16,870.21 L332.21,870.36 L336.25,870.52 L340.3,870.68 L344.34,870.85 L348.38,871.02 L352.43,871.2 L356.47,871.38 L360.52,871.57 L364.56,871.76 L368.61,871.96 L372.65,872.15 L376.69,872.36 L380.74,872.56 L384.78,872.77 L388.83,872.98 L392.87,873.2 L396.92,873.42 L400.96,873.64 L405,873.86 L409.05,874.08 L413.09,874.31 L417.14,874.54 L421.18,874.77 L425.22,875 L429.27,875.24 L433.31,875.48 L437.36,875.72 L441.4,875.96 L445.44,876.2 L449.49,876.44 L453.53,876.69 L457.58,876.94 L461.62,877.18 L465.67,877.43 L469.71,877.68 L473.75,877.94 L477.8,878.19 L481.84,878.44 L485.89,878.7 L489.93,878.96 L493.97,879.21 L498.02,879.47 L502.06,879.73 L506.11,879.99 L510.15,880.25 L514.2,880.51 L518.24,880.78 L522.28,881.04 L526.33,881.3 L530.37,881.57 L534.42,881.83 L538.46,882.1 L542.5,882.37 L546.55,882.64 L550.59,882.9 L554.64,883.17 L558.68,883.44 L562.73,883.71 L566.77,883.98 L570.81,884.25 L574.86,884.53 L578.9,884.8 L582.95,885.07 L586.99,885.34 L591.03,885.62 L595.08,885.89 L599.12,886.16 L603.17,886.44 L607.21,886.71 L611.26,886.99 L615.3,887.27" stroke="#206a20" stroke-width="2" stroke-dasharray="5.5 4.5"/>
</g>
<g clip-path="url(#c01)" fill="#004e00">
<rect x="129.68" y="801.61" width="7.6" height="7.6"/>
<rect x="129.68" y="823.76" width="7.6" height="7.6"/>
<rect x="131.86" y="838.34" width="7.6" height="7.6"/>
<rect x="131.86" y="844.29" width="7.6" height="7.6"/>
<rect x="131.86" y="854.55" width="7.6" height="7.6"/>
<rect x="131.86" y="860.49" width="7.6" height="7.6"/>
<rect x="131.86" y="865.89" width="7.6" height="7.6"/>
<rect x="131.86" y="871.29" width="7.6" height="7.6"/>
<rect x="131.86" y="876.7" width="7.6" height="7.6"/>
<rect x="131.86" y="880.48" width="7.6" height="7.6"/>
<rect x="131.86" y="890.2" width="7.6" height="7.6"/>
<rect x="130.24" y="857.79" width="7.6" height="7.6"/>
<rect x="130.24" y="868.59" width="7.6" height="7.6"/>
<rect x="130.24" y="878.32" width="7.6" height="7.6"/>
<rect x="143.51" y="811.34" width="7.6" height="7.6"/>
<rect x="143.51" y="827.54" width="7.6" height="7.6"/>
<rect x="143.51" y="838.34" width="7.6" height="7.6"/>
<rect x="143.51" y="890.2" width="7.6" height="7.6"/>
<rect x="178.53" y="855.09" width="7.6" height="7.6"/>
<rect x="178.53" y="878.86" width="7.6" height="7.6"/>
<rect x="178.53" y="890.2" width="7.6" height="7.6"/>
<rect x="224.07" y="585.55" width="7.6" height="7.6"/>
<rect x="224.07" y="642.8" width="7.6" height="7.6"/>
<rect x="224.07" y="688.72" width="7.6" height="7.6"/>
<rect x="224.07" y="747.06" width="7.6" height="7.6"/>
<rect x="224.07" y="811.34" width="7.6" height="7.6"/>
<rect x="233.77" y="880.69" width="7.6" height="7.6"/>
<rect x="233.77" y="890.2" width="7.6" height="7.6"/>
<rect x="317.08" y="783.25" width="7.6" height="7.6"/>
<rect x="317.08" y="816.74" width="7.6" height="7.6"/>
<rect x="317.08" y="873.45" width="7.6" height="7.6"/>
<rect x="317.08" y="881.02" width="7.6" height="7.6"/>
<rect x="317.08" y="890.2" width="7.6" height="7.6"/>
<rect x="345.39" y="730.31" width="7.6" height="7.6"/>
<rect x="345.39" y="756.24" width="7.6" height="7.6"/>
<rect x="345.39" y="794.59" width="7.6" height="7.6"/>
<rect x="345.39" y="838.34" width="7.6" height="7.6"/>
<rect x="345.39" y="864.27" width="7.6" height="7.6"/>
<rect x="542.75" y="863.73" width="7.6" height="7.6"/>
<rect x="542.75" y="879.13" width="7.6" height="7.6"/>
<rect x="542.75" y="890.2" width="7.6" height="7.6"/>
</g>
<g clip-path="url(#c01)" fill="#00a800">
<rect x="131.28" y="803.21" width="4.4" height="4.4"/>
<rect x="131.28" y="825.36" width="4.4" height="4.4"/>
<rect x="133.46" y="839.94" width="4.4" height="4.4"/>
<rect x="133.46" y="845.89" width="4.4" height="4.4"/>
<rect x="133.46" y="856.15" width="4.4" height="4.4"/>
<rect x="133.46" y="862.09" width="4.4" height="4.4"/>
<rect x="133.46" y="867.49" width="4.4" height="4.4"/>
<rect x="133.46" y="872.89" width="4.4" height="4.4"/>
<rect x="133.46" y="878.3" width="4.4" height="4.4"/>
<rect x="133.46" y="882.08" width="4.4" height="4.4"/>
<rect x="133.46" y="891.8" width="4.4" height="4.4"/>
<rect x="131.84" y="859.39" width="4.4" height="4.4"/>
<rect x="131.84" y="870.19" width="4.4" height="4.4"/>
<rect x="131.84" y="879.92" width="4.4" height="4.4"/>
<rect x="145.11" y="812.94" width="4.4" height="4.4"/>
<rect x="145.11" y="829.14" width="4.4" height="4.4"/>
<rect x="145.11" y="839.94" width="4.4" height="4.4"/>
<rect x="145.11" y="891.8" width="4.4" height="4.4"/>
<rect x="180.13" y="856.69" width="4.4" height="4.4"/>
<rect x="180.13" y="880.46" width="4.4" height="4.4"/>
<rect x="180.13" y="891.8" width="4.4" height="4.4"/>
<rect x="225.67" y="587.15" width="4.4" height="4.4"/>
<rect x="225.67" y="644.4" width="4.4" height="4.4"/>
<rect x="225.67" y="690.32" width="4.4" height="4.4"/>
<rect x="225.67" y="748.66" width="4.4" height="4.4"/>
<rect x="225.67" y="812.94" width="4.4" height="4.4"/>
<rect x="235.37" y="882.29" width="4.4" height="4.4"/>
<rect x="235.37" y="891.8" width="4.4" height="4.4"/>
<rect x="318.68" y="784.85" width="4.4" height="4.4"/>
<rect x="318.68" y="818.34" width="4.4" height="4.4"/>
<rect x="318.68" y="875.05" width="4.4" height="4.4"/>
<rect x="318.68" y="882.62" width="4.4" height="4.4"/>
<rect x="318.68" y="891.8" width="4.4" height="4.4"/>
<rect x="346.99" y="731.91" width="4.4" height="4.4"/>
<rect x="346.99" y="757.84" width="4.4" height="4.4"/>
<rect x="346.99" y="796.19" width="4.4" height="4.4"/>
<rect x="346.99" y="839.94" width="4.4" height="4.4"/>
<rect x="346.99" y="865.87" width="4.4" height="4.4"/>
<rect x="544.35" y="865.33" width="4.4" height="4.4"/>
<rect x="544.35" y="880.73" width="4.4" height="4.4"/>
<rect x="544.35" y="891.8" width="4.4" height="4.4"/>
</g>
<rect x="130" y="569.9" width="485.3" height="324.1" fill="none" stroke="#000" stroke-width="2.3"/>
<path d="M210.88,894 v-4.5 M291.77,894 v-4.5 M372.65,894 v-4.5 M453.53,894 v-4.5 M534.42,894 v-4.5 M130,839.98 h4.5 M130,785.97 h4.5 M130,731.95 h4.5 M130,677.93 h4.5 M130,623.92 h4.5" stroke="#000" stroke-width="1.8" fill="none"/>
<g class="tl">
<g transform="translate(130,928.5) scale(0.96,1.02)"><text x="-8.2" y="0">0</text></g>
<g transform="translate(210.88,928.5) scale(0.96,1.02)"><text x="-24.61" y="0"> 00</text><path d="M763,0 L613,0 L613,1140 C540,1075 390,980 200,910 L200,1062 C400,1140 560,1260 650,1409 L763,1409 Z" transform="translate(-24.61,0) scale(0.014404,-0.014404)"/></g>
<g transform="translate(291.77,928.5) scale(0.96,1.02)"><text x="-24.61" y="0">200</text></g>
<g transform="translate(372.65,928.5) scale(0.96,1.02)"><text x="-24.61" y="0">300</text></g>
<g transform="translate(453.53,928.5) scale(0.96,1.02)"><text x="-24.61" y="0">400</text></g>
<g transform="translate(534.42,928.5) scale(0.96,1.02)"><text x="-24.61" y="0">500</text></g>
<g transform="translate(615.3,928.5) scale(0.96,1.02)"><text x="-24.61" y="0">600</text></g>
<g transform="translate(121.2,904.3) scale(0.96,1.02)"><text x="-16.41" y="0">0</text></g>
<g transform="translate(121.2,850.28) scale(0.96,1.02)"><text x="-32.81" y="0"> 0</text><path d="M763,0 L613,0 L613,1140 C540,1075 390,980 200,910 L200,1062 C400,1140 560,1260 650,1409 L763,1409 Z" transform="translate(-32.81,0) scale(0.014404,-0.014404)"/></g>
<g transform="translate(121.2,796.27) scale(0.96,1.02)"><text x="-32.81" y="0">20</text></g>
<g transform="translate(121.2,742.25) scale(0.96,1.02)"><text x="-32.81" y="0">30</text></g>
<g transform="translate(121.2,688.23) scale(0.96,1.02)"><text x="-32.81" y="0">40</text></g>
<g transform="translate(121.2,634.22) scale(0.96,1.02)"><text x="-32.81" y="0">50</text></g>
<g transform="translate(121.2,580.2) scale(0.96,1.02)"><text x="-32.81" y="0">60</text></g>
</g>
<clipPath id="c11"><rect x="725.6" y="569.9" width="489" height="324.1"/></clipPath>
<g clip-path="url(#c11)" fill="none">
<path d="M725.6,836.96 L729.68,836.24 L733.75,835.52 L737.83,834.8 L741.9,834.07 L745.98,833.35 L750.05,832.63 L754.12,831.91 L758.2,831.19 L762.27,830.47 L766.35,829.75 L770.42,829.03 L774.5,828.3 L778.58,827.58 L782.65,826.86 L786.73,826.14 L790.8,825.42 L794.88,824.7 L798.95,823.98 L803.02,823.26 L807.1,822.54 L811.17,821.81 L815.25,821.09 L819.33,820.37 L823.4,819.65 L827.48,818.93 L831.55,818.21 L835.62,817.49 L839.7,816.77 L843.77,816.05 L847.85,815.32 L851.92,814.6 L856,813.88 L860.08,813.16 L864.15,812.44 L868.23,811.72 L872.3,811 L876.38,810.28 L880.45,809.56 L884.52,808.83 L888.6,808.11 L892.67,807.39 L896.75,806.67 L900.83,805.95 L904.9,805.23 L908.97,804.51 L913.05,803.79 L917.12,803.07 L921.2,802.34 L925.27,801.62 L929.35,800.9 L933.42,800.18 L937.5,799.46 L941.57,798.74 L945.65,798.02 L949.72,797.3 L953.8,796.58 L957.88,795.85 L961.95,795.13 L966.02,794.41 L970.1,793.69 L974.17,792.97 L978.25,792.25 L982.33,791.53 L986.4,790.81 L990.47,790.09 L994.55,789.36 L998.62,788.64 L1002.7,787.92 L1006.77,787.2 L1010.85,786.48 L1014.92,785.76 L1019,785.04 L1023.07,784.32 L1027.15,783.6 L1031.22,782.87 L1035.3,782.15 L1039.38,781.43 L1043.45,780.71 L1047.52,779.99 L1051.6,779.27 L1055.67,778.55 L1059.75,777.83 L1063.82,777.11 L1067.9,776.38 L1071.97,775.66 L1076.05,774.94 L1080.12,774.22 L1084.2,773.5 L1088.28,772.78 L1092.35,772.06 L1096.42,771.34 L1100.5,770.62 L1104.57,769.89 L1108.65,769.17 L1112.72,768.45 L1116.8,767.73 L1120.88,767.01 L1124.95,766.29 L1129.02,765.57 L1133.1,764.85 L1137.17,764.13 L1141.25,763.4 L1145.32,762.68 L1149.4,761.96 L1153.47,761.24 L1157.55,760.52 L1161.62,759.8 L1165.7,759.08 L1169.77,758.36 L1173.85,757.63 L1177.92,756.91 L1182,756.19 L1186.07,755.47 L1190.15,754.75 L1194.22,754.03 L1198.3,753.31 L1202.38,752.59 L1206.45,751.87 L1210.52,751.14 L1214.6,750.42" stroke="#48a848" stroke-width="1.9" stroke-dasharray="5.5 5"/>
<path d="M725.6,817.18 L729.68,816.76 L733.75,816.34 L737.83,815.9 L741.9,815.45 L745.98,814.99 L750.05,814.53 L754.12,814.04 L758.2,813.55 L762.27,813.05 L766.35,812.53 L770.42,812 L774.5,811.45 L778.58,810.89 L782.65,810.32 L786.73,809.73 L790.8,809.13 L794.88,808.51 L798.95,807.87 L803.02,807.22 L807.1,806.55 L811.17,805.86 L815.25,805.16 L819.33,804.44 L823.4,803.71 L827.48,802.95 L831.55,802.18 L835.62,801.4 L839.7,800.59 L843.77,799.77 L847.85,798.94 L851.92,798.09 L856,797.22 L860.08,796.34 L864.15,795.45 L868.23,794.54 L872.3,793.62 L876.38,792.68 L880.45,791.74 L884.52,790.78 L888.6,789.81 L892.67,788.82 L896.75,787.83 L900.83,786.83 L904.9,785.82 L908.97,784.79 L913.05,783.76 L917.12,782.72 L921.2,781.67 L925.27,780.62 L929.35,779.56 L933.42,778.49 L937.5,777.41 L941.57,776.33 L945.65,775.24 L949.72,774.14 L953.8,773.04 L957.88,771.94 L961.95,770.83 L966.02,769.71 L970.1,768.59 L974.17,767.47 L978.25,766.34 L982.33,765.21 L986.4,764.07 L990.47,762.93 L994.55,761.79 L998.62,760.65 L1002.7,759.5 L1006.77,758.34 L1010.85,757.19 L1014.92,756.03 L1019,754.87 L1023.07,753.71 L1027.15,752.54 L1031.22,751.38 L1035.3,750.21 L1039.38,749.04 L1043.45,747.86 L1047.52,746.69 L1051.6,745.51 L1055.67,744.33 L1059.75,743.15 L1063.82,741.97 L1067.9,740.78 L1071.97,739.6 L1076.05,738.41 L1080.12,737.22 L1084.2,736.03 L1088.28,734.84 L1092.35,733.65 L1096.42,732.45 L1100.5,731.26 L1104.57,730.06 L1108.65,728.87 L1112.72,727.67 L1116.8,726.47 L1120.88,725.27 L1124.95,724.07 L1129.02,722.87 L1133.1,721.66 L1137.17,720.46 L1141.25,719.26 L1145.32,718.05 L1149.4,716.85 L1153.47,715.64 L1157.55,714.43 L1161.62,713.22 L1165.7,712.01 L1169.77,710.8 L1173.85,709.59 L1177.92,708.38 L1182,707.17 L1186.07,705.96 L1190.15,704.75 L1194.22,703.54 L1198.3,702.32 L1202.38,701.11 L1206.45,699.89 L1210.52,698.68 L1214.6,697.46" stroke="#2a742a" stroke-width="1.9" stroke-dasharray="3 2.3"/>
<path d="M725.6,856.73 L729.68,855.71 L733.75,854.7 L737.83,853.69 L741.9,852.7 L745.98,851.71 L750.05,850.74 L754.12,849.78 L758.2,848.83 L762.27,847.89 L766.35,846.96 L770.42,846.05 L774.5,845.16 L778.58,844.27 L782.65,843.4 L786.73,842.55 L790.8,841.71 L794.88,840.89 L798.95,840.09 L803.02,839.3 L807.1,838.52 L811.17,837.77 L815.25,837.03 L819.33,836.3 L823.4,835.6 L827.48,834.91 L831.55,834.24 L835.62,833.58 L839.7,832.94 L843.77,832.32 L847.85,831.71 L851.92,831.12 L856,830.54 L860.08,829.98 L864.15,829.43 L868.23,828.9 L872.3,828.38 L876.38,827.87 L880.45,827.37 L884.52,826.89 L888.6,826.42 L892.67,825.96 L896.75,825.51 L900.83,825.07 L904.9,824.64 L908.97,824.22 L913.05,823.81 L917.12,823.41 L921.2,823.01 L925.27,822.63 L929.35,822.25 L933.42,821.88 L937.5,821.51 L941.57,821.15 L945.65,820.8 L949.72,820.45 L953.8,820.11 L957.88,819.77 L961.95,819.44 L966.02,819.11 L970.1,818.79 L974.17,818.47 L978.25,818.16 L982.33,817.85 L986.4,817.54 L990.47,817.24 L994.55,816.94 L998.62,816.64 L1002.7,816.35 L1006.77,816.06 L1010.85,815.77 L1014.92,815.49 L1019,815.2 L1023.07,814.92 L1027.15,814.65 L1031.22,814.37 L1035.3,814.1 L1039.38,813.83 L1043.45,813.56 L1047.52,813.29 L1051.6,813.03 L1055.67,812.77 L1059.75,812.5 L1063.82,812.24 L1067.9,811.99 L1071.97,811.73 L1076.05,811.47 L1080.12,811.22 L1084.2,810.97 L1088.28,810.72 L1092.35,810.47 L1096.42,810.22 L1100.5,809.97 L1104.57,809.72 L1108.65,809.48 L1112.72,809.24 L1116.8,808.99 L1120.88,808.75 L1124.95,808.51 L1129.02,808.27 L1133.1,808.03 L1137.17,807.79 L1141.25,807.55 L1145.32,807.31 L1149.4,807.08 L1153.47,806.84 L1157.55,806.61 L1161.62,806.37 L1165.7,806.14 L1169.77,805.91 L1173.85,805.67 L1177.92,805.44 L1182,805.21 L1186.07,804.98 L1190.15,804.75 L1194.22,804.52 L1198.3,804.29 L1202.38,804.07 L1206.45,803.84 L1210.52,803.61 L1214.6,803.38" stroke="#2a742a" stroke-width="1.9" stroke-dasharray="3 2.3"/>
</g>
<g clip-path="url(#c11)" fill="#004e00">
<rect x="725.06" y="676.78" width="7.6" height="7.6"/>
<rect x="725.06" y="763.31" width="7.6" height="7.6"/>
<rect x="725.06" y="789.08" width="7.6" height="7.6"/>
<rect x="725.06" y="813.06" width="7.6" height="7.6"/>
<rect x="726.69" y="715.35" width="7.6" height="7.6"/>
<rect x="726.69" y="827.32" width="7.6" height="7.6"/>
<rect x="726.69" y="831.21" width="7.6" height="7.6"/>
<rect x="726.69" y="835.1" width="7.6" height="7.6"/>
<rect x="726.69" y="862.81" width="7.6" height="7.6"/>
<rect x="739.73" y="789.08" width="7.6" height="7.6"/>
<rect x="739.73" y="833.16" width="7.6" height="7.6"/>
<rect x="739.73" y="862.81" width="7.6" height="7.6"/>
<rect x="773.96" y="789.08" width="7.6" height="7.6"/>
<rect x="773.96" y="813.06" width="7.6" height="7.6"/>
<rect x="773.96" y="862.81" width="7.6" height="7.6"/>
<rect x="819.6" y="789.08" width="7.6" height="7.6"/>
<rect x="819.6" y="862.81" width="7.6" height="7.6"/>
<rect x="831.01" y="603.86" width="7.6" height="7.6"/>
<rect x="831.01" y="640.81" width="7.6" height="7.6"/>
<rect x="831.01" y="716" width="7.6" height="7.6"/>
<rect x="831.01" y="763.31" width="7.6" height="7.6"/>
<rect x="831.01" y="803.99" width="7.6" height="7.6"/>
<rect x="915.77" y="803.99" width="7.6" height="7.6"/>
<rect x="915.77" y="813.06" width="7.6" height="7.6"/>
<rect x="915.77" y="826.03" width="7.6" height="7.6"/>
<rect x="915.77" y="838.34" width="7.6" height="7.6"/>
<rect x="915.77" y="862.81" width="7.6" height="7.6"/>
<rect x="942.66" y="773.69" width="7.6" height="7.6"/>
<rect x="942.66" y="789.08" width="7.6" height="7.6"/>
<rect x="942.66" y="812.58" width="7.6" height="7.6"/>
<rect x="942.66" y="838.34" width="7.6" height="7.6"/>
<rect x="942.66" y="862.81" width="7.6" height="7.6"/>
<rect x="1141.52" y="596.4" width="7.6" height="7.6"/>
<rect x="1141.52" y="715.35" width="7.6" height="7.6"/>
<rect x="1141.52" y="763.31" width="7.6" height="7.6"/>
<rect x="1141.52" y="826.03" width="7.6" height="7.6"/>
<rect x="1141.52" y="862.81" width="7.6" height="7.6"/>
</g>
<g clip-path="url(#c11)" fill="#00a800">
<rect x="726.66" y="678.38" width="4.4" height="4.4"/>
<rect x="726.66" y="764.91" width="4.4" height="4.4"/>
<rect x="726.66" y="790.68" width="4.4" height="4.4"/>
<rect x="726.66" y="814.66" width="4.4" height="4.4"/>
<rect x="728.29" y="716.95" width="4.4" height="4.4"/>
<rect x="728.29" y="828.92" width="4.4" height="4.4"/>
<rect x="728.29" y="832.81" width="4.4" height="4.4"/>
<rect x="728.29" y="836.7" width="4.4" height="4.4"/>
<rect x="728.29" y="864.41" width="4.4" height="4.4"/>
<rect x="741.33" y="790.68" width="4.4" height="4.4"/>
<rect x="741.33" y="834.76" width="4.4" height="4.4"/>
<rect x="741.33" y="864.41" width="4.4" height="4.4"/>
<rect x="775.56" y="790.68" width="4.4" height="4.4"/>
<rect x="775.56" y="814.66" width="4.4" height="4.4"/>
<rect x="775.56" y="864.41" width="4.4" height="4.4"/>
<rect x="821.2" y="790.68" width="4.4" height="4.4"/>
<rect x="821.2" y="864.41" width="4.4" height="4.4"/>
<rect x="832.61" y="605.46" width="4.4" height="4.4"/>
<rect x="832.61" y="642.41" width="4.4" height="4.4"/>
<rect x="832.61" y="717.6" width="4.4" height="4.4"/>
<rect x="832.61" y="764.91" width="4.4" height="4.4"/>
<rect x="832.61" y="805.59" width="4.4" height="4.4"/>
<rect x="917.37" y="805.59" width="4.4" height="4.4"/>
<rect x="917.37" y="814.66" width="4.4" height="4.4"/>
<rect x="917.37" y="827.63" width="4.4" height="4.4"/>
<rect x="917.37" y="839.94" width="4.4" height="4.4"/>
<rect x="917.37" y="864.41" width="4.4" height="4.4"/>
<rect x="944.26" y="775.29" width="4.4" height="4.4"/>
<rect x="944.26" y="790.68" width="4.4" height="4.4"/>
<rect x="944.26" y="814.18" width="4.4" height="4.4"/>
<rect x="944.26" y="839.94" width="4.4" height="4.4"/>
<rect x="944.26" y="864.41" width="4.4" height="4.4"/>
<rect x="1143.12" y="598" width="4.4" height="4.4"/>
<rect x="1143.12" y="716.95" width="4.4" height="4.4"/>
<rect x="1143.12" y="764.91" width="4.4" height="4.4"/>
<rect x="1143.12" y="827.63" width="4.4" height="4.4"/>
<rect x="1143.12" y="864.41" width="4.4" height="4.4"/>
</g>
<rect x="725.6" y="569.9" width="489" height="324.1" fill="none" stroke="#000" stroke-width="2.3"/>
<path d="M807.1,894 v-4.5 M888.6,894 v-4.5 M970.1,894 v-4.5 M1051.6,894 v-4.5 M1133.1,894 v-4.5 M1214.6,829.18 h-4.5 M1214.6,764.36 h-4.5 M1214.6,699.54 h-4.5 M1214.6,634.72 h-4.5" stroke="#000" stroke-width="1.8" fill="none"/>
<g class="tl">
<g transform="translate(725.6,928.5) scale(0.96,1.02)"><text x="-8.2" y="0">0</text></g>
<g transform="translate(807.1,928.5) scale(0.96,1.02)"><text x="-24.61" y="0"> 00</text><path d="M763,0 L613,0 L613,1140 C540,1075 390,980 200,910 L200,1062 C400,1140 560,1260 650,1409 L763,1409 Z" transform="translate(-24.61,0) scale(0.014404,-0.014404)"/></g>
<g transform="translate(888.6,928.5) scale(0.96,1.02)"><text x="-24.61" y="0">200</text></g>
<g transform="translate(970.1,928.5) scale(0.96,1.02)"><text x="-24.61" y="0">300</text></g>
<g transform="translate(1051.6,928.5) scale(0.96,1.02)"><text x="-24.61" y="0">400</text></g>
<g transform="translate(1133.1,928.5) scale(0.96,1.02)"><text x="-24.61" y="0">500</text></g>
<g transform="translate(1214.6,928.5) scale(0.96,1.02)"><text x="-24.61" y="0">600</text></g>
<g transform="translate(1222.8,904.3) scale(0.96,1.02)"><text x="0" y="0">0</text></g>
<g transform="translate(1222.8,839.48) scale(0.96,1.02)"><text x="0" y="0">4</text></g>
<g transform="translate(1222.8,774.66) scale(0.96,1.02)"><text x="0" y="0">8</text></g>
<g transform="translate(1222.8,709.84) scale(0.96,1.02)"><text x="0" y="0"> 2</text><path d="M763,0 L613,0 L613,1140 C540,1075 390,980 200,910 L200,1062 C400,1140 560,1260 650,1409 L763,1409 Z" transform="translate(0,0) scale(0.014404,-0.014404)"/></g>
<g transform="translate(1222.8,645.02) scale(0.96,1.02)"><text x="0" y="0"> 6</text><path d="M763,0 L613,0 L613,1140 C540,1075 390,980 200,910 L200,1062 C400,1140 560,1260 650,1409 L763,1409 Z" transform="translate(0,0) scale(0.014404,-0.014404)"/></g>
<g transform="translate(1222.8,580.2) scale(0.96,1.02)"><text x="0" y="0">20</text></g>
</g>
<clipPath id="c02"><rect x="130" y="1076.2" width="485.3" height="323.8"/></clipPath>
<g clip-path="url(#c02)" fill="none">
<path d="M130,1315.81 L134.04,1316.56 L138.09,1317.31 L142.13,1318.06 L146.18,1318.81 L150.22,1319.56 L154.26,1320.3 L158.31,1321.05 L162.35,1321.8 L166.4,1322.55 L170.44,1323.3 L174.49,1324.05 L178.53,1324.8 L182.57,1325.55 L186.62,1326.3 L190.66,1327.04 L194.71,1327.79 L198.75,1328.54 L202.79,1329.29 L206.84,1330.04 L210.88,1330.79 L214.93,1331.54 L218.97,1332.29 L223.02,1333.03 L227.06,1333.78 L231.1,1334.53 L235.15,1335.28 L239.19,1336.03 L243.24,1336.78 L247.28,1337.53 L251.33,1338.28 L255.37,1339.02 L259.41,1339.77 L263.46,1340.52 L267.5,1341.27 L271.55,1342.02 L275.59,1342.77 L279.63,1343.52 L283.68,1344.27 L287.72,1345.01 L291.77,1345.76 L295.81,1346.51 L299.86,1347.26 L303.9,1348.01 L307.94,1348.76 L311.99,1349.51 L316.03,1350.26 L320.08,1351.01 L324.12,1351.75 L328.16,1352.5 L332.21,1353.25 L336.25,1354 L340.3,1354.75 L344.34,1355.5 L348.38,1356.25 L352.43,1357 L356.47,1357.74 L360.52,1358.49 L364.56,1359.24 L368.61,1359.99 L372.65,1360.74 L376.69,1361.49 L380.74,1362.24 L384.78,1362.99 L388.83,1363.73 L392.87,1364.48 L396.92,1365.23 L400.96,1365.98 L405,1366.73 L409.05,1367.48 L413.09,1368.23 L417.14,1368.98 L421.18,1369.72 L425.22,1370.47 L429.27,1371.22 L433.31,1371.97 L437.36,1372.72 L441.4,1373.47 L445.45,1374.22 L449.49,1374.97 L453.53,1375.72 L457.58,1376.46 L461.62,1377.21 L465.67,1377.96 L469.71,1378.71 L473.75,1379.46 L477.8,1380.21 L481.84,1380.96 L485.89,1381.71 L489.93,1382.45 L493.97,1383.2 L498.02,1383.95 L502.06,1384.7 L506.11,1385.45 L510.15,1386.2 L514.2,1386.95 L518.24,1387.7 L522.28,1388.44 L526.33,1389.19 L530.37,1389.94 L534.42,1390.69 L538.46,1391.44 L542.5,1392.19 L546.55,1392.94 L550.59,1393.69 L554.64,1394.43 L558.68,1395.18 L562.73,1395.93 L566.77,1396.68 L570.81,1397.43 L574.86,1398.18 L578.9,1398.93 L582.95,1399.68 L586.99,1400.42 L591.03,1401.17 L595.08,1401.92 L599.12,1402.67 L603.17,1403.42 L607.21,1404.17 L611.26,1404.92 L615.3,1405.67" stroke="#3030f0" stroke-width="2"/>
<path d="M130,1284.28 L134.04,1285.43 L138.09,1286.58 L142.13,1287.73 L146.18,1288.88 L150.22,1290.02 L154.26,1291.17 L158.31,1292.31 L162.35,1293.45 L166.4,1294.58 L170.44,1295.72 L174.49,1296.85 L178.53,1297.98 L182.57,1299.11 L186.62,1300.23 L190.66,1301.35 L194.71,1302.47 L198.75,1303.58 L202.79,1304.69 L206.84,1305.8 L210.88,1306.9 L214.93,1308 L218.97,1309.1 L223.02,1310.19 L227.06,1311.27 L231.1,1312.36 L235.15,1313.43 L239.19,1314.5 L243.24,1315.57 L247.28,1316.63 L251.33,1317.69 L255.37,1318.74 L259.41,1319.78 L263.46,1320.81 L267.5,1321.84 L271.55,1322.86 L275.59,1323.88 L279.63,1324.88 L283.68,1325.88 L287.72,1326.87 L291.77,1327.85 L295.81,1328.82 L299.86,1329.78 L303.9,1330.74 L307.94,1331.68 L311.99,1332.61 L316.03,1333.53 L320.08,1334.43 L324.12,1335.33 L328.16,1336.22 L332.21,1337.09 L336.25,1337.95 L340.3,1338.79 L344.34,1339.63 L348.38,1340.45 L352.43,1341.25 L356.47,1342.04 L360.52,1342.82 L364.56,1343.59 L368.61,1344.34 L372.65,1345.08 L376.69,1345.8 L380.74,1346.51 L384.78,1347.21 L388.83,1347.89 L392.87,1348.56 L396.92,1349.21 L400.96,1349.85 L405,1350.48 L409.05,1351.1 L413.09,1351.71 L417.14,1352.3 L421.18,1352.88 L425.22,1353.45 L429.27,1354.01 L433.31,1354.56 L437.36,1355.1 L441.4,1355.63 L445.45,1356.15 L449.49,1356.66 L453.53,1357.17 L457.58,1357.66 L461.62,1358.15 L465.67,1358.63 L469.71,1359.1 L473.75,1359.56 L477.8,1360.02 L481.84,1360.47 L485.89,1360.91 L489.93,1361.35 L493.97,1361.78 L498.02,1362.21 L502.06,1362.63 L506.11,1363.05 L510.15,1363.46 L514.2,1363.87 L518.24,1364.28 L522.28,1364.68 L526.33,1365.07 L530.37,1365.46 L534.42,1365.85 L538.46,1366.24 L542.5,1366.62 L546.55,1367 L550.59,1367.37 L554.64,1367.74 L558.68,1368.11 L562.73,1368.48 L566.77,1368.84 L570.81,1369.2 L574.86,1369.56 L578.9,1369.92 L582.95,1370.28 L586.99,1370.63 L591.03,1370.98 L595.08,1371.33 L599.12,1371.67 L603.17,1372.02 L607.21,1372.36 L611.26,1372.7 L615.3,1373.04" stroke="#101080" stroke-width="2" stroke-dasharray="5.5 4.5"/>
<path d="M130,1347.35 L134.04,1347.69 L138.09,1348.04 L142.13,1348.39 L146.18,1348.74 L150.22,1349.09 L154.26,1349.44 L158.31,1349.8 L162.35,1350.16 L166.4,1350.52 L170.44,1350.88 L174.49,1351.25 L178.53,1351.62 L182.57,1351.99 L186.62,1352.36 L190.66,1352.74 L194.71,1353.12 L198.75,1353.5 L202.79,1353.89 L206.84,1354.28 L210.88,1354.67 L214.93,1355.07 L218.97,1355.47 L223.02,1355.88 L227.06,1356.29 L231.1,1356.71 L235.15,1357.13 L239.19,1357.55 L243.24,1357.99 L247.28,1358.42 L251.33,1358.86 L255.37,1359.31 L259.41,1359.77 L263.46,1360.23 L267.5,1360.7 L271.55,1361.17 L275.59,1361.66 L279.63,1362.15 L283.68,1362.65 L287.72,1363.16 L291.77,1363.67 L295.81,1364.2 L299.86,1364.74 L303.9,1365.28 L307.94,1365.84 L311.99,1366.41 L316.03,1366.99 L320.08,1367.58 L324.12,1368.18 L328.16,1368.79 L332.21,1369.42 L336.25,1370.05 L340.3,1370.71 L344.34,1371.37 L348.38,1372.05 L352.43,1372.74 L356.47,1373.44 L360.52,1374.16 L364.56,1374.9 L368.61,1375.64 L372.65,1376.4 L376.69,1377.18 L380.74,1377.96 L384.78,1378.77 L388.83,1379.58 L392.87,1380.41 L396.92,1381.25 L400.96,1382.11 L405,1382.97 L409.05,1383.85 L413.09,1384.75 L417.14,1385.65 L421.18,1386.57 L425.22,1387.49 L429.27,1388.43 L433.31,1389.38 L437.36,1390.34 L441.4,1391.3 L445.45,1392.28 L449.49,1393.27 L453.53,1394.26 L457.58,1395.27 L461.62,1396.28 L465.67,1397.3 L469.71,1398.32 L473.75,1399.36 L477.8,1400.4 L481.84,1401.44 L485.89,1402.5 L489.93,1403.56 L493.97,1404.62 L498.02,1405.69 L502.06,1406.77 L506.11,1407.85 L510.15,1408.93 L514.2,1410.02 L518.24,1411.12 L522.28,1412.21 L526.33,1413.32 L530.37,1414.42 L534.42,1415.53 L538.46,1416.64 L542.5,1417.76 L546.55,1418.88 L550.59,1420 L554.64,1421.13 L558.68,1422.26 L562.73,1423.39 L566.77,1424.52 L570.81,1425.66 L574.86,1426.79 L578.9,1427.93 L582.95,1429.08 L586.99,1430.22 L591.03,1431.37 L595.08,1432.52 L599.12,1433.67 L603.17,1434.82 L607.21,1435.98 L611.26,1437.13 L615.3,1438.29" stroke="#101080" stroke-width="2" stroke-dasharray="5.5 4.5"/>
</g>
<g clip-path="url(#c02)" fill="#000060">
<rect x="186.05" y="1307.69" width="7.6" height="7.6"/>
<rect x="186.05" y="1329.82" width="7.6" height="7.6"/>
<rect x="186.05" y="1365.44" width="7.6" height="7.6"/>
<rect x="186.05" y="1367.33" width="7.6" height="7.6"/>
<rect x="186.05" y="1396.2" width="7.6" height="7.6"/>
<rect x="248.06" y="1235.92" width="7.6" height="7.6"/>
<rect x="248.06" y="1261.82" width="7.6" height="7.6"/>
<rect x="248.06" y="1300.14" width="7.6" height="7.6"/>
<rect x="248.06" y="1343.85" width="7.6" height="7.6"/>
<rect x="248.06" y="1369.76" width="7.6" height="7.6"/>
<rect x="271.79" y="1375.96" width="7.6" height="7.6"/>
<rect x="271.79" y="1378.93" width="7.6" height="7.6"/>
<rect x="271.79" y="1396.2" width="7.6" height="7.6"/>
<rect x="294.44" y="1347.36" width="7.6" height="7.6"/>
<rect x="294.44" y="1349.52" width="7.6" height="7.6"/>
<rect x="294.44" y="1360.04" width="7.6" height="7.6"/>
<rect x="294.44" y="1369.76" width="7.6" height="7.6"/>
<rect x="294.44" y="1384.87" width="7.6" height="7.6"/>
<rect x="294.44" y="1396.2" width="7.6" height="7.6"/>
<rect x="314.39" y="1288.81" width="7.6" height="7.6"/>
<rect x="314.39" y="1322.27" width="7.6" height="7.6"/>
<rect x="314.39" y="1380.01" width="7.6" height="7.6"/>
<rect x="314.39" y="1383.79" width="7.6" height="7.6"/>
<rect x="314.39" y="1396.2" width="7.6" height="7.6"/>
<rect x="328.95" y="1091.83" width="7.6" height="7.6"/>
<rect x="328.95" y="1148.49" width="7.6" height="7.6"/>
<rect x="328.95" y="1194.36" width="7.6" height="7.6"/>
<rect x="328.95" y="1252.65" width="7.6" height="7.6"/>
<rect x="328.95" y="1316.87" width="7.6" height="7.6"/>
<rect x="328.95" y="1360.58" width="7.6" height="7.6"/>
<rect x="328.95" y="1384.33" width="7.6" height="7.6"/>
<rect x="328.95" y="1396.2" width="7.6" height="7.6"/>
<rect x="341.89" y="1316.87" width="7.6" height="7.6"/>
<rect x="341.89" y="1332.52" width="7.6" height="7.6"/>
<rect x="341.89" y="1343.85" width="7.6" height="7.6"/>
<rect x="341.89" y="1396.2" width="7.6" height="7.6"/>
<rect x="427.63" y="1380.55" width="7.6" height="7.6"/>
<rect x="427.63" y="1382.17" width="7.6" height="7.6"/>
<rect x="427.63" y="1383.79" width="7.6" height="7.6"/>
<rect x="427.63" y="1396.2" width="7.6" height="7.6"/>
<rect x="458.9" y="1360.58" width="7.6" height="7.6"/>
<rect x="458.9" y="1375.15" width="7.6" height="7.6"/>
<rect x="458.9" y="1383.79" width="7.6" height="7.6"/>
<rect x="458.9" y="1396.2" width="7.6" height="7.6"/>
<rect x="500.96" y="1369.43" width="7.6" height="7.6"/>
<rect x="500.96" y="1383.79" width="7.6" height="7.6"/>
<rect x="500.96" y="1396.2" width="7.6" height="7.6"/>
<rect x="578.07" y="1385.62" width="7.6" height="7.6"/>
<rect x="578.07" y="1396.2" width="7.6" height="7.6"/>
</g>
<g clip-path="url(#c02)" fill="#0000ff">
<rect x="187.65" y="1309.29" width="4.4" height="4.4"/>
<rect x="187.65" y="1331.42" width="4.4" height="4.4"/>
<rect x="187.65" y="1367.04" width="4.4" height="4.4"/>
<rect x="187.65" y="1368.93" width="4.4" height="4.4"/>
<rect x="187.65" y="1397.8" width="4.4" height="4.4"/>
<rect x="249.66" y="1237.52" width="4.4" height="4.4"/>
<rect x="249.66" y="1263.42" width="4.4" height="4.4"/>
<rect x="249.66" y="1301.74" width="4.4" height="4.4"/>
<rect x="249.66" y="1345.45" width="4.4" height="4.4"/>
<rect x="249.66" y="1371.36" width="4.4" height="4.4"/>
<rect x="273.39" y="1377.56" width="4.4" height="4.4"/>
<rect x="273.39" y="1380.53" width="4.4" height="4.4"/>
<rect x="273.39" y="1397.8" width="4.4" height="4.4"/>
<rect x="296.04" y="1348.96" width="4.4" height="4.4"/>
<rect x="296.04" y="1351.12" width="4.4" height="4.4"/>
<rect x="296.04" y="1361.64" width="4.4" height="4.4"/>
<rect x="296.04" y="1371.36" width="4.4" height="4.4"/>
<rect x="296.04" y="1386.47" width="4.4" height="4.4"/>
<rect x="296.04" y="1397.8" width="4.4" height="4.4"/>
<rect x="315.99" y="1290.41" width="4.4" height="4.4"/>
<rect x="315.99" y="1323.87" width="4.4" height="4.4"/>
<rect x="315.99" y="1381.61" width="4.4" height="4.4"/>
<rect x="315.99" y="1385.39" width="4.4" height="4.4"/>
<rect x="315.99" y="1397.8" width="4.4" height="4.4"/>
<rect x="330.55" y="1093.43" width="4.4" height="4.4"/>
<rect x="330.55" y="1150.09" width="4.4" height="4.4"/>
<rect x="330.55" y="1195.96" width="4.4" height="4.4"/>
<rect x="330.55" y="1254.25" width="4.4" height="4.4"/>
<rect x="330.55" y="1318.47" width="4.4" height="4.4"/>
<rect x="330.55" y="1362.18" width="4.4" height="4.4"/>
<rect x="330.55" y="1385.93" width="4.4" height="4.4"/>
<rect x="330.55" y="1397.8" width="4.4" height="4.4"/>
<rect x="343.49" y="1318.47" width="4.4" height="4.4"/>
<rect x="343.49" y="1334.12" width="4.4" height="4.4"/>
<rect x="343.49" y="1345.45" width="4.4" height="4.4"/>
<rect x="343.49" y="1397.8" width="4.4" height="4.4"/>
<rect x="429.23" y="1382.15" width="4.4" height="4.4"/>
<rect x="429.23" y="1383.77" width="4.4" height="4.4"/>
<rect x="429.23" y="1385.39" width="4.4" height="4.4"/>
<rect x="429.23" y="1397.8" width="4.4" height="4.4"/>
<rect x="460.5" y="1362.18" width="4.4" height="4.4"/>
<rect x="460.5" y="1376.75" width="4.4" height="4.4"/>
<rect x="460.5" y="1385.39" width="4.4" height="4.4"/>
<rect x="460.5" y="1397.8" width="4.4" height="4.4"/>
<rect x="502.56" y="1371.03" width="4.4" height="4.4"/>
<rect x="502.56" y="1385.39" width="4.4" height="4.4"/>
<rect x="502.56" y="1397.8" width="4.4" height="4.4"/>
<rect x="579.67" y="1387.22" width="4.4" height="4.4"/>
<rect x="579.67" y="1397.8" width="4.4" height="4.4"/>
</g>
<rect x="130" y="1076.2" width="485.3" height="323.8" fill="none" stroke="#000" stroke-width="2.3"/>
<path d="M183.92,1400 v-4.5 M237.84,1400 v-4.5 M291.77,1400 v-4.5 M345.69,1400 v-4.5 M399.61,1400 v-4.5 M453.53,1400 v-4.5 M507.46,1400 v-4.5 M561.38,1400 v-4.5 M130,1346.03 h4.5 M130,1292.07 h4.5 M130,1238.1 h4.5 M130,1184.13 h4.5 M130,1130.17 h4.5" stroke="#000" stroke-width="1.8" fill="none"/>
<g class="tl">
<g transform="translate(130,1434.5) scale(0.96,1.02)"><text x="-20.5" y="0"> ,2</text><path d="M763,0 L613,0 L613,1140 C540,1075 390,980 200,910 L200,1062 C400,1140 560,1260 650,1409 L763,1409 Z" transform="translate(-20.5,0) scale(0.014404,-0.014404)"/></g>
<g transform="translate(183.92,1434.5) scale(0.96,1.02)"><text x="-20.5" y="0"> ,3</text><path d="M763,0 L613,0 L613,1140 C540,1075 390,980 200,910 L200,1062 C400,1140 560,1260 650,1409 L763,1409 Z" transform="translate(-20.5,0) scale(0.014404,-0.014404)"/></g>
<g transform="translate(237.84,1434.5) scale(0.96,1.02)"><text x="-20.5" y="0"> ,4</text><path d="M763,0 L613,0 L613,1140 C540,1075 390,980 200,910 L200,1062 C400,1140 560,1260 650,1409 L763,1409 Z" transform="translate(-20.5,0) scale(0.014404,-0.014404)"/></g>
<g transform="translate(291.77,1434.5) scale(0.96,1.02)"><text x="-20.5" y="0"> ,5</text><path d="M763,0 L613,0 L613,1140 C540,1075 390,980 200,910 L200,1062 C400,1140 560,1260 650,1409 L763,1409 Z" transform="translate(-20.5,0) scale(0.014404,-0.014404)"/></g>
<g transform="translate(345.69,1434.5) scale(0.96,1.02)"><text x="-20.5" y="0"> ,6</text><path d="M763,0 L613,0 L613,1140 C540,1075 390,980 200,910 L200,1062 C400,1140 560,1260 650,1409 L763,1409 Z" transform="translate(-20.5,0) scale(0.014404,-0.014404)"/></g>
<g transform="translate(399.61,1434.5) scale(0.96,1.02)"><text x="-20.5" y="0"> ,7</text><path d="M763,0 L613,0 L613,1140 C540,1075 390,980 200,910 L200,1062 C400,1140 560,1260 650,1409 L763,1409 Z" transform="translate(-20.5,0) scale(0.014404,-0.014404)"/></g>
<g transform="translate(453.53,1434.5) scale(0.96,1.02)"><text x="-20.5" y="0"> ,8</text><path d="M763,0 L613,0 L613,1140 C540,1075 390,980 200,910 L200,1062 C400,1140 560,1260 650,1409 L763,1409 Z" transform="translate(-20.5,0) scale(0.014404,-0.014404)"/></g>
<g transform="translate(507.46,1434.5) scale(0.96,1.02)"><text x="-20.5" y="0"> ,9</text><path d="M763,0 L613,0 L613,1140 C540,1075 390,980 200,910 L200,1062 C400,1140 560,1260 650,1409 L763,1409 Z" transform="translate(-20.5,0) scale(0.014404,-0.014404)"/></g>
<g transform="translate(561.38,1434.5) scale(0.96,1.02)"><text x="-20.5" y="0">2,0</text></g>
<g transform="translate(615.3,1434.5) scale(0.96,1.02)"><text x="-20.5" y="0">2, </text><path d="M763,0 L613,0 L613,1140 C540,1075 390,980 200,910 L200,1062 C400,1140 560,1260 650,1409 L763,1409 Z" transform="translate(4.1,0) scale(0.014404,-0.014404)"/></g>
<g transform="translate(121.2,1410.3) scale(0.96,1.02)"><text x="-16.41" y="0">0</text></g>
<g transform="translate(121.2,1356.33) scale(0.96,1.02)"><text x="-32.81" y="0"> 0</text><path d="M763,0 L613,0 L613,1140 C540,1075 390,980 200,910 L200,1062 C400,1140 560,1260 650,1409 L763,1409 Z" transform="translate(-32.81,0) scale(0.014404,-0.014404)"/></g>
<g transform="translate(121.2,1302.37) scale(0.96,1.02)"><text x="-32.81" y="0">20</text></g>
<g transform="translate(121.2,1248.4) scale(0.96,1.02)"><text x="-32.81" y="0">30</text></g>
<g transform="translate(121.2,1194.43) scale(0.96,1.02)"><text x="-32.81" y="0">40</text></g>
<g transform="translate(121.2,1140.47) scale(0.96,1.02)"><text x="-32.81" y="0">50</text></g>
<g transform="translate(121.2,1086.5) scale(0.96,1.02)"><text x="-32.81" y="0">60</text></g>
</g>
<clipPath id="c12"><rect x="725.6" y="1076.2" width="489" height="323.8"/></clipPath>
<g clip-path="url(#c12)" fill="none">
<path d="M725.6,1393.85 L729.68,1392.75 L733.75,1391.65 L737.83,1390.54 L741.9,1389.44 L745.98,1388.34 L750.05,1387.24 L754.12,1386.14 L758.2,1385.04 L762.28,1383.94 L766.35,1382.83 L770.43,1381.73 L774.5,1380.63 L778.57,1379.53 L782.65,1378.43 L786.73,1377.33 L790.8,1376.23 L794.88,1375.13 L798.95,1374.02 L803.03,1372.92 L807.1,1371.82 L811.17,1370.72 L815.25,1369.62 L819.33,1368.52 L823.4,1367.42 L827.48,1366.31 L831.55,1365.21 L835.62,1364.11 L839.7,1363.01 L843.77,1361.91 L847.85,1360.81 L851.93,1359.71 L856,1358.61 L860.08,1357.5 L864.15,1356.4 L868.22,1355.3 L872.3,1354.2 L876.38,1353.1 L880.45,1352 L884.53,1350.9 L888.6,1349.79 L892.67,1348.69 L896.75,1347.59 L900.82,1346.49 L904.9,1345.39 L908.98,1344.29 L913.05,1343.19 L917.12,1342.09 L921.2,1340.98 L925.27,1339.88 L929.35,1338.78 L933.42,1337.68 L937.5,1336.58 L941.58,1335.48 L945.65,1334.38 L949.73,1333.27 L953.8,1332.17 L957.88,1331.07 L961.95,1329.97 L966.02,1328.87 L970.1,1327.77 L974.17,1326.67 L978.25,1325.57 L982.33,1324.46 L986.4,1323.36 L990.47,1322.26 L994.55,1321.16 L998.62,1320.06 L1002.7,1318.96 L1006.77,1317.86 L1010.85,1316.76 L1014.92,1315.65 L1019,1314.55 L1023.08,1313.45 L1027.15,1312.35 L1031.22,1311.25 L1035.3,1310.15 L1039.38,1309.05 L1043.45,1307.94 L1047.52,1306.84 L1051.6,1305.74 L1055.67,1304.64 L1059.75,1303.54 L1063.83,1302.44 L1067.9,1301.34 L1071.97,1300.24 L1076.05,1299.13 L1080.12,1298.03 L1084.2,1296.93 L1088.28,1295.83 L1092.35,1294.73 L1096.42,1293.63 L1100.5,1292.53 L1104.57,1291.42 L1108.65,1290.32 L1112.72,1289.22 L1116.8,1288.12 L1120.88,1287.02 L1124.95,1285.92 L1129.02,1284.82 L1133.1,1283.72 L1137.17,1282.61 L1141.25,1281.51 L1145.32,1280.41 L1149.4,1279.31 L1153.47,1278.21 L1157.55,1277.11 L1161.62,1276.01 L1165.7,1274.9 L1169.77,1273.8 L1173.85,1272.7 L1177.92,1271.6 L1182,1270.5 L1186.08,1269.4 L1190.15,1268.3 L1194.22,1267.2 L1198.3,1266.09 L1202.38,1264.99 L1206.45,1263.89 L1210.53,1262.79 L1214.6,1261.69" stroke="#4040e0" stroke-width="1.9" stroke-dasharray="5.5 5"/>
<path d="M725.6,1363.09 L729.68,1362.4 L733.75,1361.7 L737.83,1361.01 L741.9,1360.31 L745.98,1359.61 L750.05,1358.91 L754.12,1358.21 L758.2,1357.51 L762.28,1356.8 L766.35,1356.1 L770.43,1355.39 L774.5,1354.68 L778.57,1353.96 L782.65,1353.25 L786.73,1352.53 L790.8,1351.81 L794.88,1351.08 L798.95,1350.36 L803.03,1349.63 L807.1,1348.89 L811.17,1348.16 L815.25,1347.42 L819.33,1346.67 L823.4,1345.93 L827.48,1345.17 L831.55,1344.42 L835.62,1343.66 L839.7,1342.89 L843.77,1342.13 L847.85,1341.35 L851.93,1340.57 L856,1339.79 L860.08,1338.99 L864.15,1338.2 L868.22,1337.39 L872.3,1336.58 L876.38,1335.76 L880.45,1334.94 L884.53,1334.1 L888.6,1333.26 L892.67,1332.41 L896.75,1331.55 L900.82,1330.68 L904.9,1329.79 L908.98,1328.9 L913.05,1328 L917.12,1327.09 L921.2,1326.16 L925.27,1325.23 L929.35,1324.28 L933.42,1323.31 L937.5,1322.34 L941.58,1321.35 L945.65,1320.34 L949.73,1319.32 L953.8,1318.29 L957.88,1317.24 L961.95,1316.18 L966.02,1315.1 L970.1,1314.01 L974.17,1312.9 L978.25,1311.77 L982.33,1310.63 L986.4,1309.48 L990.47,1308.31 L994.55,1307.13 L998.62,1305.93 L1002.7,1304.72 L1006.77,1303.49 L1010.85,1302.25 L1014.92,1301 L1019,1299.73 L1023.08,1298.45 L1027.15,1297.16 L1031.22,1295.86 L1035.3,1294.55 L1039.38,1293.23 L1043.45,1291.9 L1047.52,1290.56 L1051.6,1289.2 L1055.67,1287.85 L1059.75,1286.48 L1063.83,1285.1 L1067.9,1283.72 L1071.97,1282.33 L1076.05,1280.93 L1080.12,1279.52 L1084.2,1278.11 L1088.28,1276.69 L1092.35,1275.27 L1096.42,1273.84 L1100.5,1272.41 L1104.57,1270.97 L1108.65,1269.53 L1112.72,1268.08 L1116.8,1266.63 L1120.88,1265.17 L1124.95,1263.72 L1129.02,1262.25 L1133.1,1260.79 L1137.17,1259.32 L1141.25,1257.84 L1145.32,1256.37 L1149.4,1254.89 L1153.47,1253.41 L1157.55,1251.92 L1161.62,1250.44 L1165.7,1248.95 L1169.77,1247.46 L1173.85,1245.96 L1177.92,1244.47 L1182,1242.97 L1186.08,1241.47 L1190.15,1239.97 L1194.22,1238.47 L1198.3,1236.96 L1202.38,1235.46 L1206.45,1233.95 L1210.53,1232.44 L1214.6,1230.93" stroke="#0a0a70" stroke-width="1.9" stroke-dasharray="3 2.3"/>
<path d="M725.6,1424.61 L729.68,1423.1 L733.75,1421.59 L737.83,1420.08 L741.9,1418.57 L745.98,1417.07 L750.05,1415.57 L754.12,1414.07 L758.2,1412.57 L762.28,1411.07 L766.35,1409.57 L770.43,1408.08 L774.5,1406.59 L778.57,1405.1 L782.65,1403.61 L786.73,1402.13 L790.8,1400.65 L794.88,1399.17 L798.95,1397.69 L803.03,1396.22 L807.1,1394.75 L811.17,1393.28 L815.25,1391.82 L819.33,1390.36 L823.4,1388.91 L827.48,1387.45 L831.55,1386.01 L835.62,1384.56 L839.7,1383.13 L843.77,1381.69 L847.85,1380.27 L851.93,1378.84 L856,1377.43 L860.08,1376.01 L864.15,1374.61 L868.22,1373.21 L872.3,1371.82 L876.38,1370.44 L880.45,1369.06 L884.53,1367.69 L888.6,1366.33 L892.67,1364.98 L896.75,1363.64 L900.82,1362.31 L904.9,1360.98 L908.98,1359.67 L913.05,1358.37 L917.12,1357.08 L921.2,1355.8 L925.27,1354.54 L929.35,1353.29 L933.42,1352.05 L937.5,1350.82 L941.58,1349.61 L945.65,1348.41 L949.73,1347.23 L953.8,1346.06 L957.88,1344.9 L961.95,1343.76 L966.02,1342.64 L970.1,1341.53 L974.17,1340.44 L978.25,1339.36 L982.33,1338.29 L986.4,1337.25 L990.47,1336.21 L994.55,1335.19 L998.62,1334.19 L1002.7,1333.2 L1006.77,1332.22 L1010.85,1331.26 L1014.92,1330.31 L1019,1329.37 L1023.08,1328.45 L1027.15,1327.53 L1031.22,1326.63 L1035.3,1325.74 L1039.38,1324.86 L1043.45,1323.99 L1047.52,1323.13 L1051.6,1322.28 L1055.67,1321.44 L1059.75,1320.6 L1063.83,1319.78 L1067.9,1318.96 L1071.97,1318.15 L1076.05,1317.34 L1080.12,1316.54 L1084.2,1315.75 L1088.28,1314.97 L1092.35,1314.19 L1096.42,1313.41 L1100.5,1312.64 L1104.57,1311.88 L1108.65,1311.12 L1112.72,1310.36 L1116.8,1309.61 L1120.88,1308.86 L1124.95,1308.12 L1129.02,1307.38 L1133.1,1306.64 L1137.17,1305.91 L1141.25,1305.18 L1145.32,1304.45 L1149.4,1303.73 L1153.47,1303.01 L1157.55,1302.29 L1161.62,1301.57 L1165.7,1300.86 L1169.77,1300.15 L1173.85,1299.44 L1177.92,1298.73 L1182,1298.03 L1186.08,1297.32 L1190.15,1296.62 L1194.22,1295.92 L1198.3,1295.23 L1202.38,1294.53 L1206.45,1293.83 L1210.53,1293.14 L1214.6,1292.45" stroke="#0a0a70" stroke-width="1.9" stroke-dasharray="3 2.3"/>
</g>
<g clip-path="url(#c12)" fill="#000060">
<rect x="781.57" y="1318.81" width="7.6" height="7.6"/>
<rect x="781.57" y="1331.6" width="7.6" height="7.6"/>
<rect x="781.57" y="1368.68" width="7.6" height="7.6"/>
<rect x="844.05" y="1280.28" width="7.6" height="7.6"/>
<rect x="844.05" y="1295.17" width="7.6" height="7.6"/>
<rect x="844.05" y="1318.81" width="7.6" height="7.6"/>
<rect x="844.05" y="1344.72" width="7.6" height="7.6"/>
<rect x="844.05" y="1368.68" width="7.6" height="7.6"/>
<rect x="867.96" y="1368.68" width="7.6" height="7.6"/>
<rect x="889.15" y="1344.72" width="7.6" height="7.6"/>
<rect x="889.15" y="1368.68" width="7.6" height="7.6"/>
<rect x="911.42" y="1309.58" width="7.6" height="7.6"/>
<rect x="911.42" y="1318.81" width="7.6" height="7.6"/>
<rect x="911.42" y="1331.6" width="7.6" height="7.6"/>
<rect x="911.42" y="1344.72" width="7.6" height="7.6"/>
<rect x="911.42" y="1368.68" width="7.6" height="7.6"/>
<rect x="925.01" y="1295.17" width="7.6" height="7.6"/>
<rect x="925.01" y="1318.81" width="7.6" height="7.6"/>
<rect x="925.01" y="1368.68" width="7.6" height="7.6"/>
<rect x="939.13" y="1295.17" width="7.6" height="7.6"/>
<rect x="939.13" y="1339.21" width="7.6" height="7.6"/>
<rect x="939.13" y="1368.68" width="7.6" height="7.6"/>
<rect x="1024.98" y="1183.63" width="7.6" height="7.6"/>
<rect x="1024.98" y="1269.76" width="7.6" height="7.6"/>
<rect x="1024.98" y="1295.17" width="7.6" height="7.6"/>
<rect x="1024.98" y="1368.68" width="7.6" height="7.6"/>
<rect x="1055.95" y="1368.68" width="7.6" height="7.6"/>
<rect x="1097.79" y="1102.68" width="7.6" height="7.6"/>
<rect x="1097.79" y="1222.32" width="7.6" height="7.6"/>
<rect x="1097.79" y="1269.76" width="7.6" height="7.6"/>
<rect x="1097.79" y="1331.6" width="7.6" height="7.6"/>
<rect x="1097.79" y="1368.68" width="7.6" height="7.6"/>
<rect x="1175.48" y="1110.28" width="7.6" height="7.6"/>
<rect x="1175.48" y="1146.71" width="7.6" height="7.6"/>
<rect x="1175.48" y="1222.32" width="7.6" height="7.6"/>
<rect x="1175.48" y="1269.76" width="7.6" height="7.6"/>
<rect x="1175.48" y="1309.58" width="7.6" height="7.6"/>
<rect x="1180.92" y="1222.32" width="7.6" height="7.6"/>
<rect x="1180.92" y="1334.68" width="7.6" height="7.6"/>
<rect x="1180.92" y="1338.56" width="7.6" height="7.6"/>
<rect x="1180.92" y="1342.29" width="7.6" height="7.6"/>
</g>
<g clip-path="url(#c12)" fill="#0000ff">
<rect x="783.17" y="1320.41" width="4.4" height="4.4"/>
<rect x="783.17" y="1333.2" width="4.4" height="4.4"/>
<rect x="783.17" y="1370.28" width="4.4" height="4.4"/>
<rect x="845.65" y="1281.88" width="4.4" height="4.4"/>
<rect x="845.65" y="1296.77" width="4.4" height="4.4"/>
<rect x="845.65" y="1320.41" width="4.4" height="4.4"/>
<rect x="845.65" y="1346.32" width="4.4" height="4.4"/>
<rect x="845.65" y="1370.28" width="4.4" height="4.4"/>
<rect x="869.56" y="1370.28" width="4.4" height="4.4"/>
<rect x="890.75" y="1346.32" width="4.4" height="4.4"/>
<rect x="890.75" y="1370.28" width="4.4" height="4.4"/>
<rect x="913.02" y="1311.18" width="4.4" height="4.4"/>
<rect x="913.02" y="1320.41" width="4.4" height="4.4"/>
<rect x="913.02" y="1333.2" width="4.4" height="4.4"/>
<rect x="913.02" y="1346.32" width="4.4" height="4.4"/>
<rect x="913.02" y="1370.28" width="4.4" height="4.4"/>
<rect x="926.61" y="1296.77" width="4.4" height="4.4"/>
<rect x="926.61" y="1320.41" width="4.4" height="4.4"/>
<rect x="926.61" y="1370.28" width="4.4" height="4.4"/>
<rect x="940.73" y="1296.77" width="4.4" height="4.4"/>
<rect x="940.73" y="1340.81" width="4.4" height="4.4"/>
<rect x="940.73" y="1370.28" width="4.4" height="4.4"/>
<rect x="1026.58" y="1185.23" width="4.4" height="4.4"/>
<rect x="1026.58" y="1271.36" width="4.4" height="4.4"/>
<rect x="1026.58" y="1296.77" width="4.4" height="4.4"/>
<rect x="1026.58" y="1370.28" width="4.4" height="4.4"/>
<rect x="1057.55" y="1370.28" width="4.4" height="4.4"/>
<rect x="1099.39" y="1104.28" width="4.4" height="4.4"/>
<rect x="1099.39" y="1223.92" width="4.4" height="4.4"/>
<rect x="1099.39" y="1271.36" width="4.4" height="4.4"/>
<rect x="1099.39" y="1333.2" width="4.4" height="4.4"/>
<rect x="1099.39" y="1370.28" width="4.4" height="4.4"/>
<rect x="1177.08" y="1111.88" width="4.4" height="4.4"/>
<rect x="1177.08" y="1148.31" width="4.4" height="4.4"/>
<rect x="1177.08" y="1223.92" width="4.4" height="4.4"/>
<rect x="1177.08" y="1271.36" width="4.4" height="4.4"/>
<rect x="1177.08" y="1311.18" width="4.4" height="4.4"/>
<rect x="1182.52" y="1223.92" width="4.4" height="4.4"/>
<rect x="1182.52" y="1336.28" width="4.4" height="4.4"/>
<rect x="1182.52" y="1340.16" width="4.4" height="4.4"/>
<rect x="1182.52" y="1343.89" width="4.4" height="4.4"/>
</g>
<rect x="725.6" y="1076.2" width="489" height="323.8" fill="none" stroke="#000" stroke-width="2.3"/>
<path d="M779.93,1400 v-4.5 M834.27,1400 v-4.5 M888.6,1400 v-4.5 M942.93,1400 v-4.5 M997.27,1400 v-4.5 M1051.6,1400 v-4.5 M1105.93,1400 v-4.5 M1160.27,1400 v-4.5 M1214.6,1335.24 h-4.5 M1214.6,1270.48 h-4.5 M1214.6,1205.72 h-4.5 M1214.6,1140.96 h-4.5" stroke="#000" stroke-width="1.8" fill="none"/>
<g class="tl">
<g transform="translate(725.6,1434.5) scale(0.96,1.02)"><text x="-20.5" y="0"> ,2</text><path d="M763,0 L613,0 L613,1140 C540,1075 390,980 200,910 L200,1062 C400,1140 560,1260 650,1409 L763,1409 Z" transform="translate(-20.5,0) scale(0.014404,-0.014404)"/></g>
<g transform="translate(779.93,1434.5) scale(0.96,1.02)"><text x="-20.5" y="0"> ,3</text><path d="M763,0 L613,0 L613,1140 C540,1075 390,980 200,910 L200,1062 C400,1140 560,1260 650,1409 L763,1409 Z" transform="translate(-20.5,0) scale(0.014404,-0.014404)"/></g>
<g transform="translate(834.27,1434.5) scale(0.96,1.02)"><text x="-20.5" y="0"> ,4</text><path d="M763,0 L613,0 L613,1140 C540,1075 390,980 200,910 L200,1062 C400,1140 560,1260 650,1409 L763,1409 Z" transform="translate(-20.5,0) scale(0.014404,-0.014404)"/></g>
<g transform="translate(888.6,1434.5) scale(0.96,1.02)"><text x="-20.5" y="0"> ,5</text><path d="M763,0 L613,0 L613,1140 C540,1075 390,980 200,910 L200,1062 C400,1140 560,1260 650,1409 L763,1409 Z" transform="translate(-20.5,0) scale(0.014404,-0.014404)"/></g>
<g transform="translate(942.93,1434.5) scale(0.96,1.02)"><text x="-20.5" y="0"> ,6</text><path d="M763,0 L613,0 L613,1140 C540,1075 390,980 200,910 L200,1062 C400,1140 560,1260 650,1409 L763,1409 Z" transform="translate(-20.5,0) scale(0.014404,-0.014404)"/></g>
<g transform="translate(997.27,1434.5) scale(0.96,1.02)"><text x="-20.5" y="0"> ,7</text><path d="M763,0 L613,0 L613,1140 C540,1075 390,980 200,910 L200,1062 C400,1140 560,1260 650,1409 L763,1409 Z" transform="translate(-20.5,0) scale(0.014404,-0.014404)"/></g>
<g transform="translate(1051.6,1434.5) scale(0.96,1.02)"><text x="-20.5" y="0"> ,8</text><path d="M763,0 L613,0 L613,1140 C540,1075 390,980 200,910 L200,1062 C400,1140 560,1260 650,1409 L763,1409 Z" transform="translate(-20.5,0) scale(0.014404,-0.014404)"/></g>
<g transform="translate(1105.93,1434.5) scale(0.96,1.02)"><text x="-20.5" y="0"> ,9</text><path d="M763,0 L613,0 L613,1140 C540,1075 390,980 200,910 L200,1062 C400,1140 560,1260 650,1409 L763,1409 Z" transform="translate(-20.5,0) scale(0.014404,-0.014404)"/></g>
<g transform="translate(1160.27,1434.5) scale(0.96,1.02)"><text x="-20.5" y="0">2,0</text></g>
<g transform="translate(1214.6,1434.5) scale(0.96,1.02)"><text x="-20.5" y="0">2, </text><path d="M763,0 L613,0 L613,1140 C540,1075 390,980 200,910 L200,1062 C400,1140 560,1260 650,1409 L763,1409 Z" transform="translate(4.1,0) scale(0.014404,-0.014404)"/></g>
<g transform="translate(1222.8,1410.3) scale(0.96,1.02)"><text x="0" y="0">0</text></g>
<g transform="translate(1222.8,1345.54) scale(0.96,1.02)"><text x="0" y="0">4</text></g>
<g transform="translate(1222.8,1280.78) scale(0.96,1.02)"><text x="0" y="0">8</text></g>
<g transform="translate(1222.8,1216.02) scale(0.96,1.02)"><text x="0" y="0"> 2</text><path d="M763,0 L613,0 L613,1140 C540,1075 390,980 200,910 L200,1062 C400,1140 560,1260 650,1409 L763,1409 Z" transform="translate(0,0) scale(0.014404,-0.014404)"/></g>
<g transform="translate(1222.8,1151.26) scale(0.96,1.02)"><text x="0" y="0"> 6</text><path d="M763,0 L613,0 L613,1140 C540,1075 390,980 200,910 L200,1062 C400,1140 560,1260 650,1409 L763,1409 Z" transform="translate(0,0) scale(0.014404,-0.014404)"/></g>
<g transform="translate(1222.8,1086.5) scale(0.96,1.02)"><text x="0" y="0">20</text></g>
</g>
<clipPath id="c03"><rect x="130" y="1582.1" width="485.3" height="323.7"/></clipPath>
<g clip-path="url(#c03)" fill="none">
<path d="M130,1897.17 L134.04,1896.63 L138.09,1896.1 L142.13,1895.56 L146.18,1895.03 L150.22,1894.49 L154.26,1893.96 L158.31,1893.42 L162.35,1892.89 L166.4,1892.35 L170.44,1891.82 L174.49,1891.28 L178.53,1890.75 L182.57,1890.21 L186.62,1889.68 L190.66,1889.14 L194.71,1888.61 L198.75,1888.07 L202.79,1887.54 L206.84,1887 L210.88,1886.47 L214.93,1885.93 L218.97,1885.4 L223.02,1884.86 L227.06,1884.33 L231.1,1883.79 L235.15,1883.26 L239.19,1882.72 L243.24,1882.19 L247.28,1881.65 L251.32,1881.12 L255.37,1880.58 L259.41,1880.05 L263.46,1879.51 L267.5,1878.98 L271.55,1878.44 L275.59,1877.91 L279.63,1877.37 L283.68,1876.84 L287.72,1876.3 L291.77,1875.77 L295.81,1875.23 L299.85,1874.7 L303.9,1874.16 L307.94,1873.63 L311.99,1873.09 L316.03,1872.56 L320.08,1872.02 L324.12,1871.49 L328.16,1870.95 L332.21,1870.42 L336.25,1869.88 L340.3,1869.35 L344.34,1868.81 L348.38,1868.28 L352.43,1867.74 L356.47,1867.21 L360.52,1866.67 L364.56,1866.14 L368.61,1865.6 L372.65,1865.07 L376.69,1864.53 L380.74,1864 L384.78,1863.46 L388.83,1862.93 L392.87,1862.39 L396.92,1861.86 L400.96,1861.32 L405,1860.79 L409.05,1860.25 L413.09,1859.72 L417.14,1859.18 L421.18,1858.65 L425.22,1858.11 L429.27,1857.58 L433.31,1857.04 L437.36,1856.51 L441.4,1855.97 L445.44,1855.44 L449.49,1854.9 L453.53,1854.37 L457.58,1853.83 L461.62,1853.3 L465.67,1852.76 L469.71,1852.23 L473.75,1851.69 L477.8,1851.16 L481.84,1850.62 L485.89,1850.09 L489.93,1849.55 L493.97,1849.02 L498.02,1848.48 L502.06,1847.95 L506.11,1847.41 L510.15,1846.88 L514.2,1846.34 L518.24,1845.81 L522.28,1845.27 L526.33,1844.74 L530.37,1844.2 L534.42,1843.67 L538.46,1843.13 L542.5,1842.6 L546.55,1842.06 L550.59,1841.53 L554.64,1840.99 L558.68,1840.46 L562.73,1839.92 L566.77,1839.39 L570.81,1838.85 L574.86,1838.32 L578.9,1837.78 L582.95,1837.25 L586.99,1836.71 L591.03,1836.18 L595.08,1835.64 L599.12,1835.11 L603.17,1834.57 L607.21,1834.04 L611.26,1833.5 L615.3,1832.97" stroke="#e040e0" stroke-width="2"/>
<path d="M130,1867.86 L134.04,1867.71 L138.09,1867.55 L142.13,1867.39 L146.18,1867.23 L150.22,1867.07 L154.26,1866.9 L158.31,1866.73 L162.35,1866.56 L166.4,1866.39 L170.44,1866.21 L174.49,1866.04 L178.53,1865.86 L182.57,1865.67 L186.62,1865.48 L190.66,1865.3 L194.71,1865.1 L198.75,1864.91 L202.79,1864.7 L206.84,1864.5 L210.88,1864.29 L214.93,1864.08 L218.97,1863.86 L223.02,1863.64 L227.06,1863.42 L231.1,1863.19 L235.15,1862.95 L239.19,1862.71 L243.24,1862.46 L247.28,1862.21 L251.32,1861.95 L255.37,1861.69 L259.41,1861.42 L263.46,1861.14 L267.5,1860.85 L271.55,1860.56 L275.59,1860.26 L279.63,1859.95 L283.68,1859.63 L287.72,1859.3 L291.77,1858.97 L295.81,1858.62 L299.85,1858.27 L303.9,1857.9 L307.94,1857.52 L311.99,1857.14 L316.03,1856.74 L320.08,1856.33 L324.12,1855.91 L328.16,1855.48 L332.21,1855.03 L336.25,1854.58 L340.3,1854.11 L344.34,1853.62 L348.38,1853.13 L352.43,1852.62 L356.47,1852.1 L360.52,1851.57 L364.56,1851.02 L368.61,1850.46 L372.65,1849.89 L376.69,1849.3 L380.74,1848.7 L384.78,1848.09 L388.83,1847.47 L392.87,1846.83 L396.92,1846.18 L400.96,1845.52 L405,1844.85 L409.05,1844.17 L413.09,1843.48 L417.14,1842.78 L421.18,1842.06 L425.22,1841.34 L429.27,1840.61 L433.31,1839.86 L437.36,1839.11 L441.4,1838.35 L445.44,1837.59 L449.49,1836.81 L453.53,1836.03 L457.58,1835.24 L461.62,1834.44 L465.67,1833.64 L469.71,1832.83 L473.75,1832.01 L477.8,1831.19 L481.84,1830.36 L485.89,1829.52 L489.93,1828.69 L493.97,1827.84 L498.02,1826.99 L502.06,1826.14 L506.11,1825.28 L510.15,1824.42 L514.2,1823.56 L518.24,1822.69 L522.28,1821.82 L526.33,1820.94 L530.37,1820.06 L534.42,1819.18 L538.46,1818.29 L542.5,1817.4 L546.55,1816.51 L550.59,1815.62 L554.64,1814.72 L558.68,1813.82 L562.73,1812.92 L566.77,1812.01 L570.81,1811.11 L574.86,1810.2 L578.9,1809.29 L582.95,1808.38 L586.99,1807.46 L591.03,1806.55 L595.08,1805.63 L599.12,1804.71 L603.17,1803.79 L607.21,1802.86 L611.26,1801.94 L615.3,1801.02" stroke="#a010a0" stroke-width="2" stroke-dasharray="5.5 4.5"/>
<path d="M130,1926.47 L134.04,1925.56 L138.09,1924.65 L142.13,1923.74 L146.18,1922.83 L150.22,1921.92 L154.26,1921.02 L158.31,1920.11 L162.35,1919.21 L166.4,1918.32 L170.44,1917.42 L174.49,1916.53 L178.53,1915.64 L182.57,1914.75 L186.62,1913.87 L190.66,1912.99 L194.71,1912.11 L198.75,1911.24 L202.79,1910.37 L206.84,1909.5 L210.88,1908.64 L214.93,1907.79 L218.97,1906.93 L223.02,1906.08 L227.06,1905.24 L231.1,1904.4 L235.15,1903.56 L239.19,1902.74 L243.24,1901.91 L247.28,1901.09 L251.32,1900.28 L255.37,1899.48 L259.41,1898.68 L263.46,1897.89 L267.5,1897.1 L271.55,1896.33 L275.59,1895.56 L279.63,1894.8 L283.68,1894.05 L287.72,1893.3 L291.77,1892.57 L295.81,1891.85 L299.85,1891.13 L303.9,1890.43 L307.94,1889.73 L311.99,1889.05 L316.03,1888.38 L320.08,1887.71 L324.12,1887.07 L328.16,1886.43 L332.21,1885.8 L336.25,1885.19 L340.3,1884.59 L344.34,1884 L348.38,1883.43 L352.43,1882.86 L356.47,1882.32 L360.52,1881.78 L364.56,1881.26 L368.61,1880.75 L372.65,1880.25 L376.69,1879.77 L380.74,1879.29 L384.78,1878.84 L388.83,1878.39 L392.87,1877.96 L396.92,1877.53 L400.96,1877.12 L405,1876.72 L409.05,1876.33 L413.09,1875.96 L417.14,1875.59 L421.18,1875.23 L425.22,1874.89 L429.27,1874.55 L433.31,1874.22 L437.36,1873.9 L441.4,1873.59 L445.44,1873.29 L449.49,1872.99 L453.53,1872.71 L457.58,1872.43 L461.62,1872.16 L465.67,1871.89 L469.71,1871.63 L473.75,1871.38 L477.8,1871.13 L481.84,1870.89 L485.89,1870.65 L489.93,1870.42 L493.97,1870.19 L498.02,1869.97 L502.06,1869.75 L506.11,1869.54 L510.15,1869.33 L514.2,1869.13 L518.24,1868.93 L522.28,1868.73 L526.33,1868.54 L530.37,1868.35 L534.42,1868.16 L538.46,1867.97 L542.5,1867.79 L546.55,1867.62 L550.59,1867.44 L554.64,1867.27 L558.68,1867.1 L562.73,1866.93 L566.77,1866.76 L570.81,1866.6 L574.86,1866.44 L578.9,1866.28 L582.95,1866.12 L586.99,1865.96 L591.03,1865.81 L595.08,1865.66 L599.12,1865.51 L603.17,1865.36 L607.21,1865.21 L611.26,1865.06 L615.3,1864.92" stroke="#a010a0" stroke-width="2" stroke-dasharray="5.5 4.5"/>
</g>
<g clip-path="url(#c03)" fill="#9a00a8">
<rect x="169.6" y="1823.5" width="7.6" height="7.6"/>
<rect x="169.6" y="1876.21" width="7.6" height="7.6"/>
<rect x="169.6" y="1902" width="7.6" height="7.6"/>
<rect x="266.8" y="1759.03" width="7.6" height="7.6"/>
<rect x="266.8" y="1850.42" width="7.6" height="7.6"/>
<rect x="266.8" y="1866.93" width="7.6" height="7.6"/>
<rect x="266.8" y="1885.28" width="7.6" height="7.6"/>
<rect x="266.8" y="1902" width="7.6" height="7.6"/>
<rect x="363.3" y="1700.23" width="7.6" height="7.6"/>
<rect x="363.3" y="1768.2" width="7.6" height="7.6"/>
<rect x="363.3" y="1836.18" width="7.6" height="7.6"/>
<rect x="363.3" y="1850.75" width="7.6" height="7.6"/>
<rect x="363.3" y="1890.94" width="7.6" height="7.6"/>
<rect x="363.3" y="1902" width="7.6" height="7.6"/>
<rect x="446.22" y="1654.37" width="7.6" height="7.6"/>
<rect x="446.22" y="1806.51" width="7.6" height="7.6"/>
<rect x="446.22" y="1827.55" width="7.6" height="7.6"/>
<rect x="446.22" y="1839.42" width="7.6" height="7.6"/>
<rect x="446.22" y="1850.75" width="7.6" height="7.6"/>
<rect x="446.22" y="1870.71" width="7.6" height="7.6"/>
<rect x="446.22" y="1881.5" width="7.6" height="7.6"/>
<rect x="446.22" y="1891.75" width="7.6" height="7.6"/>
<rect x="446.22" y="1902" width="7.6" height="7.6"/>
<rect x="542.86" y="1597.18" width="7.6" height="7.6"/>
<rect x="542.86" y="1742.31" width="7.6" height="7.6"/>
<rect x="542.86" y="1795.18" width="7.6" height="7.6"/>
<rect x="542.86" y="1814.06" width="7.6" height="7.6"/>
<rect x="542.86" y="1823.23" width="7.6" height="7.6"/>
<rect x="542.86" y="1857.22" width="7.6" height="7.6"/>
<rect x="542.86" y="1866.93" width="7.6" height="7.6"/>
<rect x="542.86" y="1885.28" width="7.6" height="7.6"/>
<rect x="542.86" y="1902" width="7.6" height="7.6"/>
</g>
<g clip-path="url(#c03)" fill="#ff00ff">
<rect x="171.2" y="1825.1" width="4.4" height="4.4"/>
<rect x="171.2" y="1877.81" width="4.4" height="4.4"/>
<rect x="171.2" y="1903.6" width="4.4" height="4.4"/>
<rect x="268.4" y="1760.63" width="4.4" height="4.4"/>
<rect x="268.4" y="1852.02" width="4.4" height="4.4"/>
<rect x="268.4" y="1868.53" width="4.4" height="4.4"/>
<rect x="268.4" y="1886.88" width="4.4" height="4.4"/>
<rect x="268.4" y="1903.6" width="4.4" height="4.4"/>
<rect x="364.9" y="1701.83" width="4.4" height="4.4"/>
<rect x="364.9" y="1769.8" width="4.4" height="4.4"/>
<rect x="364.9" y="1837.78" width="4.4" height="4.4"/>
<rect x="364.9" y="1852.35" width="4.4" height="4.4"/>
<rect x="364.9" y="1892.54" width="4.4" height="4.4"/>
<rect x="364.9" y="1903.6" width="4.4" height="4.4"/>
<rect x="447.82" y="1655.97" width="4.4" height="4.4"/>
<rect x="447.82" y="1808.11" width="4.4" height="4.4"/>
<rect x="447.82" y="1829.15" width="4.4" height="4.4"/>
<rect x="447.82" y="1841.02" width="4.4" height="4.4"/>
<rect x="447.82" y="1852.35" width="4.4" height="4.4"/>
<rect x="447.82" y="1872.31" width="4.4" height="4.4"/>
<rect x="447.82" y="1883.1" width="4.4" height="4.4"/>
<rect x="447.82" y="1893.35" width="4.4" height="4.4"/>
<rect x="447.82" y="1903.6" width="4.4" height="4.4"/>
<rect x="544.46" y="1598.78" width="4.4" height="4.4"/>
<rect x="544.46" y="1743.91" width="4.4" height="4.4"/>
<rect x="544.46" y="1796.78" width="4.4" height="4.4"/>
<rect x="544.46" y="1815.66" width="4.4" height="4.4"/>
<rect x="544.46" y="1824.83" width="4.4" height="4.4"/>
<rect x="544.46" y="1858.82" width="4.4" height="4.4"/>
<rect x="544.46" y="1868.53" width="4.4" height="4.4"/>
<rect x="544.46" y="1886.88" width="4.4" height="4.4"/>
<rect x="544.46" y="1903.6" width="4.4" height="4.4"/>
</g>
<rect x="130" y="1582.1" width="485.3" height="323.7" fill="none" stroke="#000" stroke-width="2.3"/>
<path d="M199.33,1905.8 v-4.5 M268.66,1905.8 v-4.5 M337.99,1905.8 v-4.5 M407.31,1905.8 v-4.5 M476.64,1905.8 v-4.5 M545.97,1905.8 v-4.5 M130,1851.85 h4.5 M130,1797.9 h4.5 M130,1743.95 h4.5 M130,1690 h4.5 M130,1636.05 h4.5" stroke="#000" stroke-width="1.8" fill="none"/>
<g class="tl">
<g transform="translate(130,1940.3) scale(0.96,1.02)"><text x="-16.41" y="0"> 0</text><path d="M763,0 L613,0 L613,1140 C540,1075 390,980 200,910 L200,1062 C400,1140 560,1260 650,1409 L763,1409 Z" transform="translate(-16.41,0) scale(0.014404,-0.014404)"/></g>
<g transform="translate(199.33,1940.3) scale(0.96,1.02)"><text x="-16.41" y="0"> 5</text><path d="M763,0 L613,0 L613,1140 C540,1075 390,980 200,910 L200,1062 C400,1140 560,1260 650,1409 L763,1409 Z" transform="translate(-16.41,0) scale(0.014404,-0.014404)"/></g>
<g transform="translate(268.66,1940.3) scale(0.96,1.02)"><text x="-16.41" y="0">20</text></g>
<g transform="translate(337.99,1940.3) scale(0.96,1.02)"><text x="-16.41" y="0">25</text></g>
<g transform="translate(407.31,1940.3) scale(0.96,1.02)"><text x="-16.41" y="0">30</text></g>
<g transform="translate(476.64,1940.3) scale(0.96,1.02)"><text x="-16.41" y="0">35</text></g>
<g transform="translate(545.97,1940.3) scale(0.96,1.02)"><text x="-16.41" y="0">40</text></g>
<g transform="translate(615.3,1940.3) scale(0.96,1.02)"><text x="-16.41" y="0">45</text></g>
<g transform="translate(121.2,1916.1) scale(0.96,1.02)"><text x="-16.41" y="0">0</text></g>
<g transform="translate(121.2,1862.15) scale(0.96,1.02)"><text x="-32.81" y="0"> 0</text><path d="M763,0 L613,0 L613,1140 C540,1075 390,980 200,910 L200,1062 C400,1140 560,1260 650,1409 L763,1409 Z" transform="translate(-32.81,0) scale(0.014404,-0.014404)"/></g>
<g transform="translate(121.2,1808.2) scale(0.96,1.02)"><text x="-32.81" y="0">20</text></g>
<g transform="translate(121.2,1754.25) scale(0.96,1.02)"><text x="-32.81" y="0">30</text></g>
<g transform="translate(121.2,1700.3) scale(0.96,1.02)"><text x="-32.81" y="0">40</text></g>
<g transform="translate(121.2,1646.35) scale(0.96,1.02)"><text x="-32.81" y="0">50</text></g>
<g transform="translate(121.2,1592.4) scale(0.96,1.02)"><text x="-32.81" y="0">60</text></g>
</g>
<clipPath id="c13"><rect x="725.6" y="1582.1" width="489" height="323.7"/></clipPath>
<g clip-path="url(#c13)" fill="none">
<path d="M725.6,1847.37 L729.68,1847.56 L733.75,1847.74 L737.83,1847.93 L741.9,1848.11 L745.98,1848.3 L750.05,1848.48 L754.12,1848.66 L758.2,1848.85 L762.27,1849.03 L766.35,1849.22 L770.43,1849.4 L774.5,1849.59 L778.58,1849.77 L782.65,1849.96 L786.73,1850.14 L790.8,1850.33 L794.88,1850.51 L798.95,1850.69 L803.02,1850.88 L807.1,1851.06 L811.17,1851.25 L815.25,1851.43 L819.32,1851.62 L823.4,1851.8 L827.48,1851.99 L831.55,1852.17 L835.62,1852.36 L839.7,1852.54 L843.77,1852.72 L847.85,1852.91 L851.92,1853.09 L856,1853.28 L860.08,1853.46 L864.15,1853.65 L868.23,1853.83 L872.3,1854.02 L876.38,1854.2 L880.45,1854.39 L884.52,1854.57 L888.6,1854.76 L892.67,1854.94 L896.75,1855.12 L900.82,1855.31 L904.9,1855.49 L908.97,1855.68 L913.05,1855.86 L917.12,1856.05 L921.2,1856.23 L925.27,1856.42 L929.35,1856.6 L933.42,1856.79 L937.5,1856.97 L941.58,1857.15 L945.65,1857.34 L949.73,1857.52 L953.8,1857.71 L957.88,1857.89 L961.95,1858.08 L966.02,1858.26 L970.1,1858.45 L974.17,1858.63 L978.25,1858.82 L982.33,1859 L986.4,1859.19 L990.47,1859.37 L994.55,1859.55 L998.62,1859.74 L1002.7,1859.92 L1006.77,1860.11 L1010.85,1860.29 L1014.92,1860.48 L1019,1860.66 L1023.08,1860.85 L1027.15,1861.03 L1031.22,1861.22 L1035.3,1861.4 L1039.38,1861.58 L1043.45,1861.77 L1047.53,1861.95 L1051.6,1862.14 L1055.67,1862.32 L1059.75,1862.51 L1063.82,1862.69 L1067.9,1862.88 L1071.97,1863.06 L1076.05,1863.25 L1080.12,1863.43 L1084.2,1863.61 L1088.27,1863.8 L1092.35,1863.98 L1096.42,1864.17 L1100.5,1864.35 L1104.57,1864.54 L1108.65,1864.72 L1112.72,1864.91 L1116.8,1865.09 L1120.88,1865.28 L1124.95,1865.46 L1129.02,1865.65 L1133.1,1865.83 L1137.17,1866.01 L1141.25,1866.2 L1145.33,1866.38 L1149.4,1866.57 L1153.47,1866.75 L1157.55,1866.94 L1161.62,1867.12 L1165.7,1867.31 L1169.78,1867.49 L1173.85,1867.68 L1177.92,1867.86 L1182,1868.04 L1186.08,1868.23 L1190.15,1868.41 L1194.22,1868.6 L1198.3,1868.78 L1202.38,1868.97 L1206.45,1869.15 L1210.52,1869.34 L1214.6,1869.52" stroke="#e050e0" stroke-width="1.9" stroke-dasharray="5.5 5"/>
<path d="M725.6,1811.43 L729.68,1812.08 L733.75,1812.73 L737.83,1813.38 L741.9,1814.03 L745.98,1814.67 L750.05,1815.31 L754.12,1815.95 L758.2,1816.58 L762.27,1817.22 L766.35,1817.85 L770.43,1818.48 L774.5,1819.1 L778.58,1819.72 L782.65,1820.34 L786.73,1820.95 L790.8,1821.56 L794.88,1822.17 L798.95,1822.77 L803.02,1823.37 L807.1,1823.97 L811.17,1824.56 L815.25,1825.14 L819.32,1825.72 L823.4,1826.3 L827.48,1826.87 L831.55,1827.43 L835.62,1827.99 L839.7,1828.54 L843.77,1829.09 L847.85,1829.63 L851.92,1830.16 L856,1830.68 L860.08,1831.2 L864.15,1831.71 L868.23,1832.21 L872.3,1832.7 L876.38,1833.18 L880.45,1833.65 L884.52,1834.11 L888.6,1834.56 L892.67,1835 L896.75,1835.43 L900.82,1835.85 L904.9,1836.25 L908.97,1836.65 L913.05,1837.03 L917.12,1837.39 L921.2,1837.75 L925.27,1838.08 L929.35,1838.41 L933.42,1838.71 L937.5,1839.01 L941.58,1839.29 L945.65,1839.55 L949.73,1839.79 L953.8,1840.02 L957.88,1840.24 L961.95,1840.44 L966.02,1840.62 L970.1,1840.78 L974.17,1840.93 L978.25,1841.06 L982.33,1841.18 L986.4,1841.28 L990.47,1841.36 L994.55,1841.43 L998.62,1841.49 L1002.7,1841.53 L1006.77,1841.55 L1010.85,1841.56 L1014.92,1841.56 L1019,1841.54 L1023.08,1841.51 L1027.15,1841.47 L1031.22,1841.42 L1035.3,1841.36 L1039.38,1841.28 L1043.45,1841.19 L1047.53,1841.1 L1051.6,1840.99 L1055.67,1840.87 L1059.75,1840.75 L1063.82,1840.61 L1067.9,1840.47 L1071.97,1840.32 L1076.05,1840.16 L1080.12,1840 L1084.2,1839.82 L1088.27,1839.64 L1092.35,1839.46 L1096.42,1839.27 L1100.5,1839.07 L1104.57,1838.87 L1108.65,1838.66 L1112.72,1838.45 L1116.8,1838.23 L1120.88,1838 L1124.95,1837.78 L1129.02,1837.55 L1133.1,1837.31 L1137.17,1837.07 L1141.25,1836.83 L1145.33,1836.58 L1149.4,1836.33 L1153.47,1836.08 L1157.55,1835.82 L1161.62,1835.56 L1165.7,1835.3 L1169.78,1835.03 L1173.85,1834.77 L1177.92,1834.5 L1182,1834.22 L1186.08,1833.95 L1190.15,1833.67 L1194.22,1833.39 L1198.3,1833.11 L1202.38,1832.83 L1206.45,1832.54 L1210.52,1832.26 L1214.6,1831.97" stroke="#a020a0" stroke-width="1.9" stroke-dasharray="3 2.3"/>
<path d="M725.6,1883.31 L729.68,1883.03 L733.75,1882.75 L737.83,1882.47 L741.9,1882.19 L745.98,1881.92 L750.05,1881.65 L754.12,1881.38 L758.2,1881.11 L762.27,1880.85 L766.35,1880.59 L770.43,1880.33 L774.5,1880.07 L778.58,1879.82 L782.65,1879.57 L786.73,1879.33 L790.8,1879.09 L794.88,1878.85 L798.95,1878.62 L803.02,1878.39 L807.1,1878.16 L811.17,1877.94 L815.25,1877.72 L819.32,1877.51 L823.4,1877.31 L827.48,1877.11 L831.55,1876.91 L835.62,1876.72 L839.7,1876.54 L843.77,1876.36 L847.85,1876.19 L851.92,1876.03 L856,1875.88 L860.08,1875.73 L864.15,1875.59 L868.23,1875.46 L872.3,1875.34 L876.38,1875.22 L880.45,1875.12 L884.52,1875.03 L888.6,1874.95 L892.67,1874.88 L896.75,1874.82 L900.82,1874.77 L904.9,1874.73 L908.97,1874.71 L913.05,1874.7 L917.12,1874.7 L921.2,1874.72 L925.27,1874.75 L929.35,1874.8 L933.42,1874.86 L937.5,1874.93 L941.58,1875.02 L945.65,1875.13 L949.73,1875.25 L953.8,1875.39 L957.88,1875.55 L961.95,1875.72 L966.02,1875.91 L970.1,1876.11 L974.17,1876.33 L978.25,1876.57 L982.33,1876.82 L986.4,1877.09 L990.47,1877.38 L994.55,1877.68 L998.62,1877.99 L1002.7,1878.32 L1006.77,1878.66 L1010.85,1879.02 L1014.92,1879.39 L1019,1879.78 L1023.08,1880.18 L1027.15,1880.59 L1031.22,1881.01 L1035.3,1881.44 L1039.38,1881.89 L1043.45,1882.35 L1047.53,1882.81 L1051.6,1883.29 L1055.67,1883.77 L1059.75,1884.27 L1063.82,1884.77 L1067.9,1885.28 L1071.97,1885.8 L1076.05,1886.33 L1080.12,1886.86 L1084.2,1887.41 L1088.27,1887.95 L1092.35,1888.51 L1096.42,1889.07 L1100.5,1889.64 L1104.57,1890.21 L1108.65,1890.79 L1112.72,1891.37 L1116.8,1891.96 L1120.88,1892.55 L1124.95,1893.14 L1129.02,1893.75 L1133.1,1894.35 L1137.17,1894.96 L1141.25,1895.57 L1145.33,1896.19 L1149.4,1896.81 L1153.47,1897.43 L1157.55,1898.05 L1161.62,1898.68 L1165.7,1899.31 L1169.78,1899.95 L1173.85,1900.58 L1177.92,1901.22 L1182,1901.87 L1186.08,1902.51 L1190.15,1903.16 L1194.22,1903.8 L1198.3,1904.46 L1202.38,1905.11 L1206.45,1905.76 L1210.52,1906.42 L1214.6,1907.08" stroke="#a020a0" stroke-width="1.9" stroke-dasharray="3 2.3"/>
</g>
<g clip-path="url(#c13)" fill="#9a00a8">
<rect x="764.83" y="1659.71" width="7.6" height="7.6"/>
<rect x="764.83" y="1742.25" width="7.6" height="7.6"/>
<rect x="764.83" y="1823.02" width="7.6" height="7.6"/>
<rect x="764.83" y="1902" width="7.6" height="7.6"/>
<rect x="861.93" y="1742.25" width="7.6" height="7.6"/>
<rect x="861.93" y="1795.18" width="7.6" height="7.6"/>
<rect x="861.93" y="1850.37" width="7.6" height="7.6"/>
<rect x="861.93" y="1902" width="7.6" height="7.6"/>
<rect x="960.71" y="1619.41" width="7.6" height="7.6"/>
<rect x="960.71" y="1700.33" width="7.6" height="7.6"/>
<rect x="960.71" y="1823.02" width="7.6" height="7.6"/>
<rect x="960.71" y="1863.16" width="7.6" height="7.6"/>
<rect x="960.71" y="1902" width="7.6" height="7.6"/>
<rect x="1043.28" y="1611.96" width="7.6" height="7.6"/>
<rect x="1043.28" y="1806.35" width="7.6" height="7.6"/>
<rect x="1043.28" y="1839.2" width="7.6" height="7.6"/>
<rect x="1043.28" y="1870.44" width="7.6" height="7.6"/>
<rect x="1043.28" y="1902" width="7.6" height="7.6"/>
<rect x="1141.92" y="1795.18" width="7.6" height="7.6"/>
<rect x="1141.92" y="1823.02" width="7.6" height="7.6"/>
<rect x="1141.92" y="1850.37" width="7.6" height="7.6"/>
<rect x="1141.92" y="1875.94" width="7.6" height="7.6"/>
<rect x="1141.92" y="1902" width="7.6" height="7.6"/>
</g>
<g clip-path="url(#c13)" fill="#ff00ff">
<rect x="766.43" y="1661.31" width="4.4" height="4.4"/>
<rect x="766.43" y="1743.85" width="4.4" height="4.4"/>
<rect x="766.43" y="1824.62" width="4.4" height="4.4"/>
<rect x="766.43" y="1903.6" width="4.4" height="4.4"/>
<rect x="863.53" y="1743.85" width="4.4" height="4.4"/>
<rect x="863.53" y="1796.78" width="4.4" height="4.4"/>
<rect x="863.53" y="1851.97" width="4.4" height="4.4"/>
<rect x="863.53" y="1903.6" width="4.4" height="4.4"/>
<rect x="962.31" y="1621.01" width="4.4" height="4.4"/>
<rect x="962.31" y="1701.93" width="4.4" height="4.4"/>
<rect x="962.31" y="1824.62" width="4.4" height="4.4"/>
<rect x="962.31" y="1864.76" width="4.4" height="4.4"/>
<rect x="962.31" y="1903.6" width="4.4" height="4.4"/>
<rect x="1044.88" y="1613.56" width="4.4" height="4.4"/>
<rect x="1044.88" y="1807.95" width="4.4" height="4.4"/>
<rect x="1044.88" y="1840.8" width="4.4" height="4.4"/>
<rect x="1044.88" y="1872.04" width="4.4" height="4.4"/>
<rect x="1044.88" y="1903.6" width="4.4" height="4.4"/>
<rect x="1143.52" y="1796.78" width="4.4" height="4.4"/>
<rect x="1143.52" y="1824.62" width="4.4" height="4.4"/>
<rect x="1143.52" y="1851.97" width="4.4" height="4.4"/>
<rect x="1143.52" y="1877.54" width="4.4" height="4.4"/>
<rect x="1143.52" y="1903.6" width="4.4" height="4.4"/>
</g>
<rect x="725.6" y="1582.1" width="489" height="323.7" fill="none" stroke="#000" stroke-width="2.3"/>
<path d="M795.46,1905.8 v-4.5 M795.46,1582.1 v4.5 M865.31,1905.8 v-4.5 M865.31,1582.1 v4.5 M935.17,1905.8 v-4.5 M935.17,1582.1 v4.5 M1005.03,1905.8 v-4.5 M1005.03,1582.1 v4.5 M1074.89,1905.8 v-4.5 M1074.89,1582.1 v4.5 M1144.74,1905.8 v-4.5 M1144.74,1582.1 v4.5 M1214.6,1841.06 h-4.5 M1214.6,1776.32 h-4.5 M1214.6,1711.58 h-4.5 M1214.6,1646.84 h-4.5" stroke="#000" stroke-width="1.8" fill="none"/>
<g class="tl">
<g transform="translate(725.6,1940.3) scale(0.96,1.02)"><text x="-16.41" y="0"> 0</text><path d="M763,0 L613,0 L613,1140 C540,1075 390,980 200,910 L200,1062 C400,1140 560,1260 650,1409 L763,1409 Z" transform="translate(-16.41,0) scale(0.014404,-0.014404)"/></g>
<g transform="translate(795.46,1940.3) scale(0.96,1.02)"><text x="-16.41" y="0"> 5</text><path d="M763,0 L613,0 L613,1140 C540,1075 390,980 200,910 L200,1062 C400,1140 560,1260 650,1409 L763,1409 Z" transform="translate(-16.41,0) scale(0.014404,-0.014404)"/></g>
<g transform="translate(865.31,1940.3) scale(0.96,1.02)"><text x="-16.41" y="0">20</text></g>
<g transform="translate(935.17,1940.3) scale(0.96,1.02)"><text x="-16.41" y="0">25</text></g>
<g transform="translate(1005.03,1940.3) scale(0.96,1.02)"><text x="-16.41" y="0">30</text></g>
<g transform="translate(1074.89,1940.3) scale(0.96,1.02)"><text x="-16.41" y="0">35</text></g>
<g transform="translate(1144.74,1940.3) scale(0.96,1.02)"><text x="-16.41" y="0">40</text></g>
<g transform="translate(1214.6,1940.3) scale(0.96,1.02)"><text x="-16.41" y="0">45</text></g>
<g transform="translate(1222.8,1916.1) scale(0.96,1.02)"><text x="0" y="0">0</text></g>
<g transform="translate(1222.8,1851.36) scale(0.96,1.02)"><text x="0" y="0">4</text></g>
<g transform="translate(1222.8,1786.62) scale(0.96,1.02)"><text x="0" y="0">8</text></g>
<g transform="translate(1222.8,1721.88) scale(0.96,1.02)"><text x="0" y="0"> 2</text><path d="M763,0 L613,0 L613,1140 C540,1075 390,980 200,910 L200,1062 C400,1140 560,1260 650,1409 L763,1409 Z" transform="translate(0,0) scale(0.014404,-0.014404)"/></g>
<g transform="translate(1222.8,1657.14) scale(0.96,1.02)"><text x="0" y="0"> 6</text><path d="M763,0 L613,0 L613,1140 C540,1075 390,980 200,910 L200,1062 C400,1140 560,1260 650,1409 L763,1409 Z" transform="translate(0,0) scale(0.014404,-0.014404)"/></g>
<g transform="translate(1222.8,1592.4) scale(0.96,1.02)"><text x="0" y="0">20</text></g>
</g>
<text class="pl" x="55.5" y="24.3">A</text>
<text class="pl" x="55.5" y="531.7">B</text>
<text class="pl" x="55.5" y="1044.5">C</text>
<text class="pl" x="55.5" y="1561.9">D</text>
<text class="pl" x="670.8" y="24.3">E</text>
<text class="pl" x="670.8" y="531.8">F</text>
<text class="pl" x="670.8" y="1044.5">G</text>
<text class="pl" x="670.8" y="1561.8">H</text>
<text class="ax" transform="translate(645.6,476) scale(1,1.07)" style="font-size:27.3px" text-anchor="middle">Temperature, <tspan font-size="18" dy="-11">o</tspan><tspan dy="11">C</tspan></text>
<text class="ax" transform="translate(643.2,985.4) scale(1,1.07)" style="font-size:27.6px" text-anchor="middle">Precipitation, mm</text>
<text class="ax" transform="translate(649.8,1487.3) scale(1,1.07)" style="font-size:27.5px" text-anchor="middle">Eastern wind speed, m/s</text>
<text class="ax" transform="translate(652.3,1993.8) scale(1,1.07)" style="font-size:27.7px" text-anchor="middle">Density, colonies per m<tspan font-size="20.5" dx="-1.2" dy="-9.6">2</tspan></text>
<text class="vt" transform="translate(37.5,971.5) rotate(-90)" style="font-size:40.3px" text-anchor="middle">Bleached colonies, %</text>
<text class="vt" transform="translate(1337,976.4) rotate(-90)" style="font-size:41.35px" text-anchor="middle">Colonies with PM, %</text>
</svg>
</body></html>
